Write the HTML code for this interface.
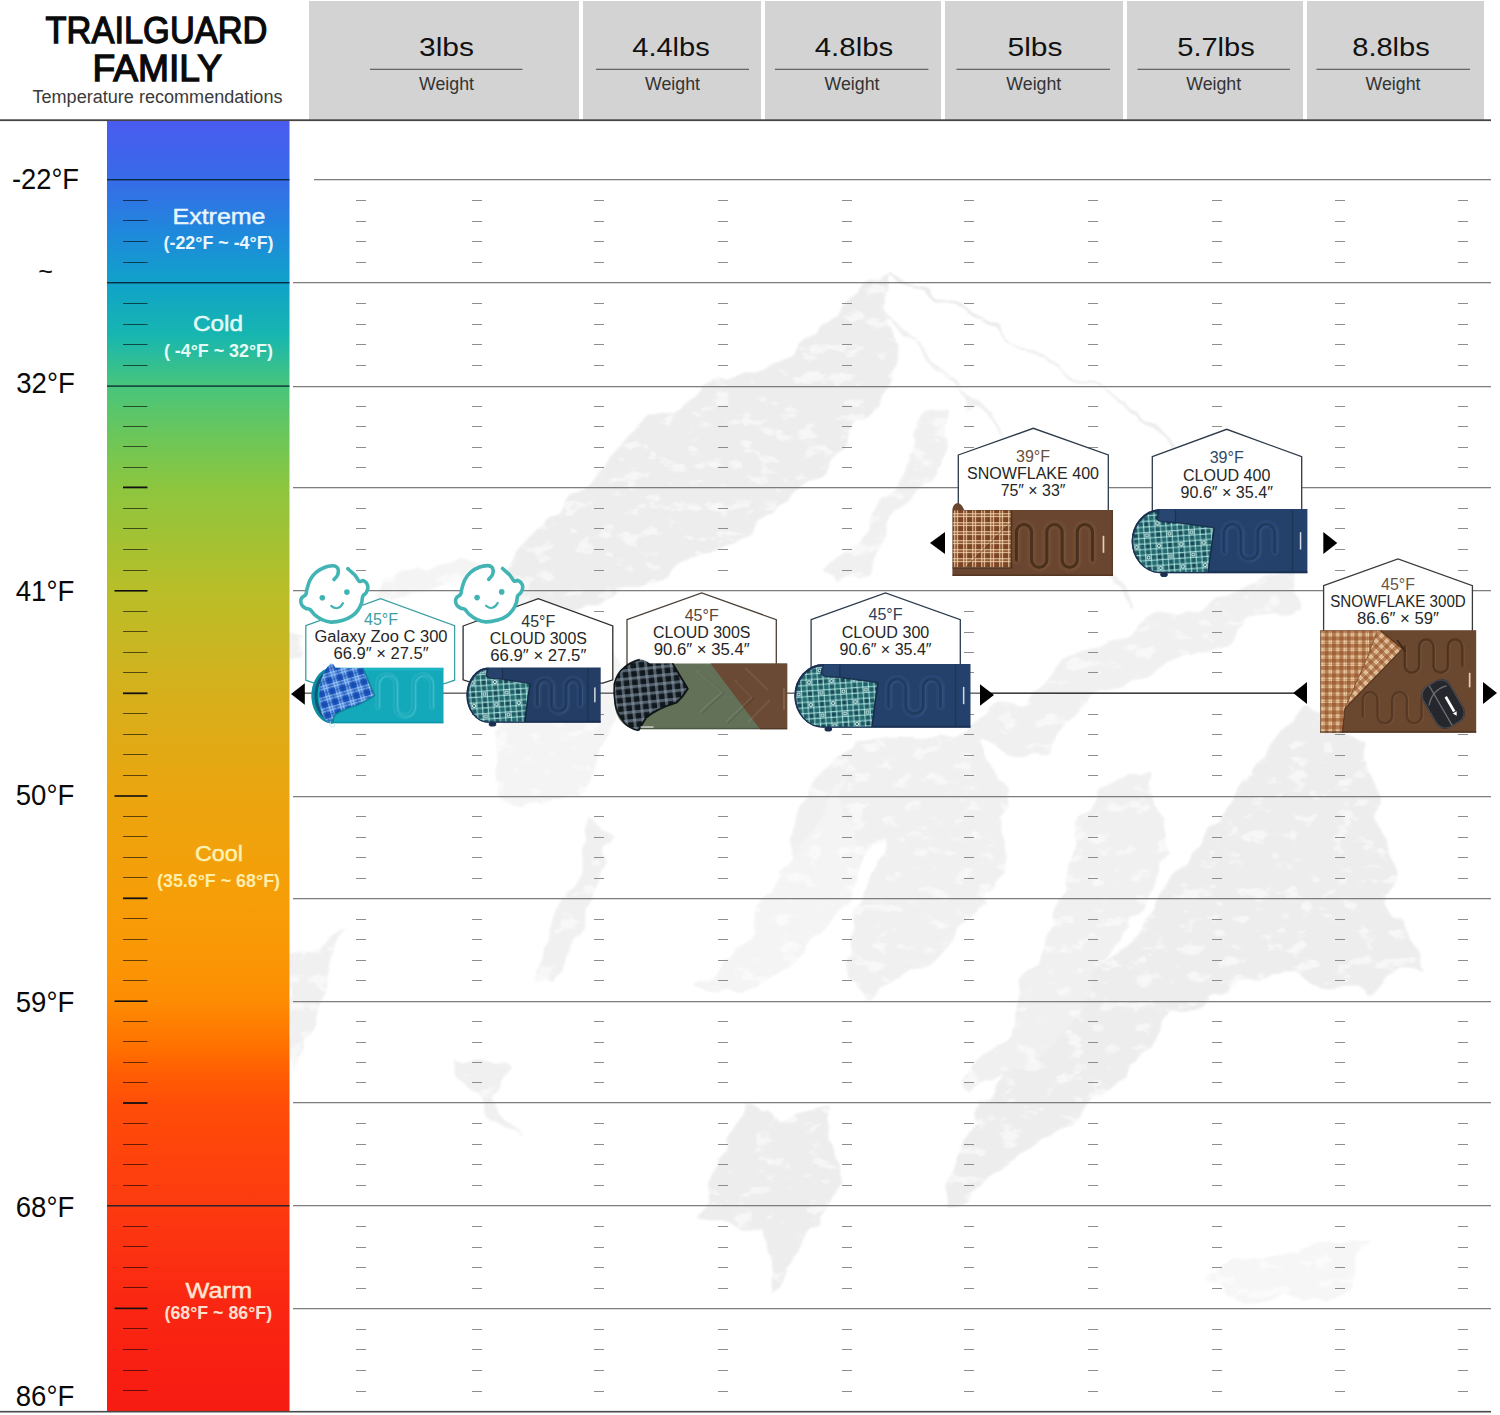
<!DOCTYPE html>
<html><head><meta charset="utf-8"><title>Trailguard Family</title>
<style>
html,body{margin:0;padding:0;background:#fff;}
body{width:1500px;height:1415px;overflow:hidden;font-family:"Liberation Sans",sans-serif;}
svg{display:block;}
text{font-family:"Liberation Sans",sans-serif;}
</style></head><body>
<svg width="1500" height="1415" viewBox="0 0 1500 1415">
<defs>
<linearGradient id="bar" x1="0" y1="121" x2="0" y2="1411" gradientUnits="userSpaceOnUse">
<stop offset="0.0000" stop-color="#4a5bf0"/><stop offset="0.0457" stop-color="#376be8"/><stop offset="0.0860" stop-color="#1f88dc"/><stop offset="0.1256" stop-color="#10a2c9"/><stop offset="0.1659" stop-color="#17b6b0"/><stop offset="0.2054" stop-color="#48c57c"/><stop offset="0.2450" stop-color="#6cc659"/><stop offset="0.2845" stop-color="#8dc63f"/><stop offset="0.3643" stop-color="#b9be28"/><stop offset="0.4434" stop-color="#d6b01c"/><stop offset="0.5233" stop-color="#eba50f"/><stop offset="0.6023" stop-color="#f69e08"/><stop offset="0.6504" stop-color="#fa9605"/><stop offset="0.6822" stop-color="#fd8c03"/><stop offset="0.7163" stop-color="#ff7200"/><stop offset="0.7395" stop-color="#ff5c04"/><stop offset="0.7612" stop-color="#ff4e08"/><stop offset="0.7977" stop-color="#ff440c"/><stop offset="0.8411" stop-color="#fd3a10"/><stop offset="0.9202" stop-color="#fa2612"/><stop offset="1.0000" stop-color="#f71b12"/></linearGradient>
<pattern id="plTeal" width="22.4" height="22.4" patternUnits="userSpaceOnUse" patternTransform="rotate(-4)">
<rect width="22.4" height="22.4" fill="#164a57"/>
<rect x="0.2" y="0" width="1.3" height="22.4" fill="#bdf6ee" fill-opacity=".78"/><rect x="0" y="0.2" width="22.4" height="1.3" fill="#bdf6ee" fill-opacity=".78"/>
<rect x="5.8" y="0" width="1.3" height="22.4" fill="#bdf6ee" fill-opacity=".78"/><rect x="0" y="5.8" width="22.4" height="1.3" fill="#bdf6ee" fill-opacity=".78"/>
<rect x="11.4" y="0" width="1.3" height="22.4" fill="#bdf6ee" fill-opacity=".78"/><rect x="0" y="11.4" width="22.4" height="1.3" fill="#bdf6ee" fill-opacity=".78"/>
<rect x="17.0" y="0" width="1.3" height="22.4" fill="#bdf6ee" fill-opacity=".78"/><rect x="0" y="17.0" width="22.4" height="1.3" fill="#bdf6ee" fill-opacity=".78"/>
<rect x="1.5" y="0" width="4.3" height="22.4" fill="#3f9c98" fill-opacity=".22"/><rect x="12.7" y="0" width="4.3" height="22.4" fill="#3f9c98" fill-opacity=".22"/>
<rect x="0" y="1.5" width="22.4" height="4.3" fill="#3f9c98" fill-opacity=".22"/><rect x="0" y="12.7" width="22.4" height="4.3" fill="#3f9c98" fill-opacity=".22"/>
<circle cx="9.25" cy="9.25" r="1.5" fill="#123c47" stroke="#d9fff9" stroke-width="1"/><circle cx="20.45" cy="20.45" r="1.5" fill="#123c47" stroke="#d9fff9" stroke-width="1"/>
</pattern>
<pattern id="plBlue" width="11" height="11" patternUnits="userSpaceOnUse" patternTransform="rotate(-16)">
<rect width="11" height="11" fill="#1a55bf"/>
<rect x="0" y="0" width="4.4" height="11" fill="#5aa0ee" fill-opacity=".38"/>
<rect x="0" y="0" width="11" height="4.4" fill="#5aa0ee" fill-opacity=".38"/>
<rect x="0.2" y="0" width="1.1" height="11" fill="#d6ebff" fill-opacity=".55"/>
<rect x="3.2" y="0" width="1.1" height="11" fill="#d6ebff" fill-opacity=".55"/>
<rect x="0" y="0.2" width="11" height="1.1" fill="#d6ebff" fill-opacity=".55"/>
<rect x="0" y="3.2" width="11" height="1.1" fill="#d6ebff" fill-opacity=".55"/>
<rect x="7.4" y="0" width=".8" height="11" fill="#0f3a90" fill-opacity=".6"/>
<rect x="0" y="7.4" width="11" height=".8" fill="#0f3a90" fill-opacity=".6"/>
</pattern>
<pattern id="plDark" width="8.4" height="8.4" patternUnits="userSpaceOnUse" patternTransform="rotate(-6)">
<rect width="8.4" height="8.4" fill="#11181d"/>
<rect x="0" y="0" width="3" height="8.4" fill="#93a6b8" fill-opacity=".5"/>
<rect x="0" y="0" width="8.4" height="3" fill="#93a6b8" fill-opacity=".5"/>
</pattern>
<pattern id="plTan" width="9" height="9" patternUnits="userSpaceOnUse">
<rect width="9" height="9" fill="#7c4526"/>
<rect x="0" y="0" width="4.2" height="9" fill="#c8905c" fill-opacity=".3"/>
<rect x="0" y="0" width="9" height="4.2" fill="#c8905c" fill-opacity=".3"/>
<rect x="0.2" y="0" width="1" height="9" fill="#f7dfba" fill-opacity=".72"/>
<rect x="3.1" y="0" width="1" height="9" fill="#f7dfba" fill-opacity=".72"/>
<rect x="0" y="0.2" width="9" height="1" fill="#f7dfba" fill-opacity=".72"/>
<rect x="0" y="3.1" width="9" height="1" fill="#f7dfba" fill-opacity=".72"/>
</pattern>
<pattern id="plTanL" width="7.4" height="7.4" patternUnits="userSpaceOnUse">
<rect width="7.4" height="7.4" fill="#f7e0b8"/>
<rect x="0" y="0" width="4.1" height="7.4" fill="#8e451c" fill-opacity=".58"/>
<rect x="0" y="0" width="7.4" height="4.1" fill="#8e451c" fill-opacity=".58"/>
<rect x="5.5" y="0" width=".7" height="7.4" fill="#8e451c" fill-opacity=".4"/>
<rect x="0" y="5.5" width="7.4" height=".7" fill="#8e451c" fill-opacity=".4"/>
</pattern>
<pattern id="plTan2" width="7.4" height="7.4" patternUnits="userSpaceOnUse" patternTransform="rotate(45)">
<rect width="7.4" height="7.4" fill="#f9e4be"/>
<rect x="0" y="0" width="3.9" height="7.4" fill="#8e451c" fill-opacity=".55"/>
<rect x="0" y="0" width="7.4" height="3.9" fill="#8e451c" fill-opacity=".55"/>
<rect x="5.4" y="0" width=".7" height="7.4" fill="#8e451c" fill-opacity=".4"/>
<rect x="0" y="5.4" width="7.4" height=".7" fill="#8e451c" fill-opacity=".4"/>
</pattern>
<filter id="soft" x="0" y="0" width="1500" height="1415" filterUnits="userSpaceOnUse" color-interpolation-filters="sRGB"><feTurbulence type="fractalNoise" baseFrequency="0.018" numOctaves="3" seed="7" result="n"/><feDisplacementMap in="SourceGraphic" in2="n" scale="38" xChannelSelector="R" yChannelSelector="G" result="d0"/><feGaussianBlur in="d0" stdDeviation="1.1" result="d"/><feTurbulence type="fractalNoise" baseFrequency="0.045 0.07" numOctaves="3" seed="11" result="n2"/><feColorMatrix in="n2" type="matrix" values="0 0 0 0 0  0 0 0 0 0  0 0 0 0 0  1.6 0 0 0 -0.12" result="m0"/><feComponentTransfer in="m0" result="m"><feFuncA type="table" tableValues="0 0 0 0.25 0.85 1 1 1 1"/></feComponentTransfer><feComposite in="d" in2="m" operator="in" result="sp"/><feComponentTransfer in="d" result="dl"><feFuncA type="linear" slope="0.45"/></feComponentTransfer><feMerge><feMergeNode in="dl"/><feMergeNode in="sp"/></feMerge></filter>
</defs>
<rect x="0" y="0" width="1500" height="1415" fill="#fff"/>
<g id="mountain" filter="url(#soft)">
<polygon points="887,272 862,294 808,332 760,364 711,386 668,418 614,456 571,494 528,542 495,575 478,600 545,628 614,596 668,578 722,545 776,512 830,470 857,428 884,404 893,350 892,300" fill="#ededed" fill-opacity="1"/>
<polygon points="495,575 430,590 370,600 380,575 450,560" fill="#f4f4f4" fill-opacity="1"/>
<path d="M888 271 L970 314 L1093 384 L1200 462 L1300 500" fill="none" stroke="#e9e9e9" stroke-width="2"/>
<path d="M890 300 L905 340 L1000 430 L1060 520 L1130 610" fill="none" stroke="#efefef" stroke-width="3"/>
<polygon points="917,420 955,409 948,448 917,497 881,543 842,589 821,582 860,533 892,480" fill="#f0f0f0" fill-opacity="1"/>
<polygon points="1300,561 1259,586 1189,603 1118,632 1047,674 998,709 970,750 1047,750 1083,709 1153,667 1224,639 1300,603" fill="#f0f0f0" fill-opacity="1"/>
<polygon points="492,740 560,660 610,620 625,700 588,790 500,800" fill="#f4f4f4" fill-opacity="1"/>
<polygon points="290,628 306,632 304,664 290,668" fill="#f0f0f0" fill-opacity="1"/>
<polygon points="1305,712 1363,740 1395,901 1419,974 1371,990 1306,974 1177,1006 1097,1095 992,1176 943,1208 959,1159 1016,1063 1097,974 1177,869 1242,788" fill="#ededed" fill-opacity="1"/>
<polygon points="1097,788 1145,772 1169,845 1097,974 1048,1046 976,1095 968,1079 1016,1006 1064,901" fill="#f0f0f0" fill-opacity="1"/>
<polygon points="847,740 984,740 1008,804 992,901 935,966 871,998 847,982 855,901 887,837 806,885 790,821" fill="#f0f0f0" fill-opacity="1"/>
<polygon points="850,770 800,850 745,927 694,990 745,990 800,960 850,900" fill="#f4f4f4" fill-opacity="1"/>
<polygon points="596,821 613,837 556,990 532,982" fill="#f0f0f0" fill-opacity="1"/>
<polygon points="290,950 338,934 322,1006 290,1079" fill="#f0f0f0" fill-opacity="1"/>
<polygon points="451,1055 508,1063 492,1103 516,1143 467,1095" fill="#f0f0f0" fill-opacity="1"/>
<polygon points="742,1103 774,1119 830,1111 847,1184 806,1240 774,1297 766,1224 693,1216 726,1143" fill="#ededed" fill-opacity="1"/>
<polygon points="1201,1272 1371,1240 1339,1297 1242,1305" fill="#f6f6f6" fill-opacity="1"/>
</g>
<g id="header">
<rect x="309" y="1" width="270" height="119" fill="#d3d3d3"/>
<text x="446.5" y="55.6" font-size="26" text-anchor="middle" fill="#111" textLength="55" lengthAdjust="spacingAndGlyphs">3lbs</text>
<rect x="370.0" y="68.8" width="152.5" height="0.9" fill="#3a3a3a"/>
<text x="446.5" y="90.3" font-size="17.5" text-anchor="middle" fill="#333" textLength="55" lengthAdjust="spacingAndGlyphs">Weight</text>
<rect x="583" y="1" width="178" height="119" fill="#d3d3d3"/>
<text x="671.0" y="55.6" font-size="26" text-anchor="middle" fill="#111" textLength="77.5" lengthAdjust="spacingAndGlyphs">4.4lbs</text>
<rect x="596.0" y="68.8" width="153.0" height="0.9" fill="#3a3a3a"/>
<text x="672.5" y="90.3" font-size="17.5" text-anchor="middle" fill="#333" textLength="55" lengthAdjust="spacingAndGlyphs">Weight</text>
<rect x="765" y="1" width="176" height="119" fill="#d3d3d3"/>
<text x="854.0" y="55.6" font-size="26" text-anchor="middle" fill="#111" textLength="78.5" lengthAdjust="spacingAndGlyphs">4.8lbs</text>
<rect x="775.0" y="68.8" width="153.5" height="0.9" fill="#3a3a3a"/>
<text x="852.0" y="90.3" font-size="17.5" text-anchor="middle" fill="#333" textLength="55" lengthAdjust="spacingAndGlyphs">Weight</text>
<rect x="945" y="1" width="178" height="119" fill="#d3d3d3"/>
<text x="1035.0" y="55.6" font-size="26" text-anchor="middle" fill="#111" textLength="55" lengthAdjust="spacingAndGlyphs">5lbs</text>
<rect x="956.5" y="68.8" width="153.5" height="0.9" fill="#3a3a3a"/>
<text x="1033.8" y="90.3" font-size="17.5" text-anchor="middle" fill="#333" textLength="55" lengthAdjust="spacingAndGlyphs">Weight</text>
<rect x="1127" y="1" width="176" height="119" fill="#d3d3d3"/>
<text x="1216.0" y="55.6" font-size="26" text-anchor="middle" fill="#111" textLength="77.5" lengthAdjust="spacingAndGlyphs">5.7lbs</text>
<rect x="1137.5" y="68.8" width="152.5" height="0.9" fill="#3a3a3a"/>
<text x="1213.7" y="90.3" font-size="17.5" text-anchor="middle" fill="#333" textLength="55" lengthAdjust="spacingAndGlyphs">Weight</text>
<rect x="1307" y="1" width="177" height="119" fill="#d3d3d3"/>
<text x="1391.0" y="55.6" font-size="26" text-anchor="middle" fill="#111" textLength="77.5" lengthAdjust="spacingAndGlyphs">8.8lbs</text>
<rect x="1316.5" y="68.8" width="153.5" height="0.9" fill="#3a3a3a"/>
<text x="1393.0" y="90.3" font-size="17.5" text-anchor="middle" fill="#333" textLength="55" lengthAdjust="spacingAndGlyphs">Weight</text>
</g>
<rect x="0" y="119.3" width="1491" height="1.8" fill="#444"/>
<text x="156.5" y="43.2" font-size="37.2" text-anchor="middle" fill="#0a0a0a" stroke="#0a0a0a" stroke-width="1.3" textLength="222" lengthAdjust="spacingAndGlyphs">TRAILGUARD</text>
<text x="157.3" y="80.7" font-size="37.2" text-anchor="middle" fill="#0a0a0a" stroke="#0a0a0a" stroke-width="1.3" textLength="129.5" lengthAdjust="spacingAndGlyphs">FAMILY</text>
<text x="157.5" y="103.3" font-size="18" text-anchor="middle" fill="#3a3a3a" textLength="250" lengthAdjust="spacingAndGlyphs">Temperature recommendations</text>
<rect x="107" y="121" width="182.5" height="1290.6" fill="url(#bar)"/>
<rect x="0" y="1410.9" width="1491" height="1.6" fill="#4a4a4a"/>
<g id="grid">
<rect x="314" y="179" width="1177" height="1" fill="#7e7e7e"/><rect x="314" y="180" width="1177" height="1" fill="#7e7e7e" fill-opacity=".28"/>
<rect x="293" y="282" width="1198" height="1" fill="#7e7e7e"/><rect x="293" y="283" width="1198" height="1" fill="#7e7e7e" fill-opacity=".28"/>
<rect x="293" y="386" width="1198" height="1" fill="#7e7e7e"/><rect x="293" y="387" width="1198" height="1" fill="#7e7e7e" fill-opacity=".28"/>
<rect x="293" y="487" width="1198" height="1" fill="#7e7e7e"/><rect x="293" y="488" width="1198" height="1" fill="#7e7e7e" fill-opacity=".28"/>
<rect x="293" y="590" width="1198" height="1" fill="#7e7e7e"/><rect x="293" y="591" width="1198" height="1" fill="#7e7e7e" fill-opacity=".28"/>
<rect x="293" y="796" width="1198" height="1" fill="#7e7e7e"/><rect x="293" y="797" width="1198" height="1" fill="#7e7e7e" fill-opacity=".28"/>
<rect x="293" y="898" width="1198" height="1" fill="#7e7e7e"/><rect x="293" y="899" width="1198" height="1" fill="#7e7e7e" fill-opacity=".28"/>
<rect x="293" y="1001" width="1198" height="1" fill="#7e7e7e"/><rect x="293" y="1002" width="1198" height="1" fill="#7e7e7e" fill-opacity=".28"/>
<rect x="293" y="1102" width="1198" height="1" fill="#7e7e7e"/><rect x="293" y="1103" width="1198" height="1" fill="#7e7e7e" fill-opacity=".28"/>
<rect x="293" y="1205" width="1198" height="1" fill="#7e7e7e"/><rect x="293" y="1206" width="1198" height="1" fill="#7e7e7e" fill-opacity=".28"/>
<rect x="293" y="1308" width="1198" height="1" fill="#7e7e7e"/><rect x="293" y="1309" width="1198" height="1" fill="#7e7e7e" fill-opacity=".28"/>
<rect x="356" y="200" width="10" height="1" fill="#8e8e8e"/><rect x="472" y="200" width="10" height="1" fill="#8e8e8e"/><rect x="594" y="200" width="10" height="1" fill="#8e8e8e"/><rect x="718" y="200" width="10" height="1" fill="#8e8e8e"/><rect x="842" y="200" width="10" height="1" fill="#8e8e8e"/><rect x="964" y="200" width="10" height="1" fill="#8e8e8e"/><rect x="1088" y="200" width="10" height="1" fill="#8e8e8e"/><rect x="1212" y="200" width="10" height="1" fill="#8e8e8e"/><rect x="1335" y="200" width="10" height="1" fill="#8e8e8e"/><rect x="1458" y="200" width="10" height="1" fill="#8e8e8e"/><rect x="356" y="221" width="10" height="1" fill="#8e8e8e"/><rect x="472" y="221" width="10" height="1" fill="#8e8e8e"/><rect x="594" y="221" width="10" height="1" fill="#8e8e8e"/><rect x="718" y="221" width="10" height="1" fill="#8e8e8e"/><rect x="842" y="221" width="10" height="1" fill="#8e8e8e"/><rect x="964" y="221" width="10" height="1" fill="#8e8e8e"/><rect x="1088" y="221" width="10" height="1" fill="#8e8e8e"/><rect x="1212" y="221" width="10" height="1" fill="#8e8e8e"/><rect x="1335" y="221" width="10" height="1" fill="#8e8e8e"/><rect x="1458" y="221" width="10" height="1" fill="#8e8e8e"/><rect x="356" y="241" width="10" height="1" fill="#8e8e8e"/><rect x="472" y="241" width="10" height="1" fill="#8e8e8e"/><rect x="594" y="241" width="10" height="1" fill="#8e8e8e"/><rect x="718" y="241" width="10" height="1" fill="#8e8e8e"/><rect x="842" y="241" width="10" height="1" fill="#8e8e8e"/><rect x="964" y="241" width="10" height="1" fill="#8e8e8e"/><rect x="1088" y="241" width="10" height="1" fill="#8e8e8e"/><rect x="1212" y="241" width="10" height="1" fill="#8e8e8e"/><rect x="1335" y="241" width="10" height="1" fill="#8e8e8e"/><rect x="1458" y="241" width="10" height="1" fill="#8e8e8e"/><rect x="356" y="262" width="10" height="1" fill="#8e8e8e"/><rect x="472" y="262" width="10" height="1" fill="#8e8e8e"/><rect x="594" y="262" width="10" height="1" fill="#8e8e8e"/><rect x="718" y="262" width="10" height="1" fill="#8e8e8e"/><rect x="842" y="262" width="10" height="1" fill="#8e8e8e"/><rect x="964" y="262" width="10" height="1" fill="#8e8e8e"/><rect x="1088" y="262" width="10" height="1" fill="#8e8e8e"/><rect x="1212" y="262" width="10" height="1" fill="#8e8e8e"/><rect x="1335" y="262" width="10" height="1" fill="#8e8e8e"/><rect x="1458" y="262" width="10" height="1" fill="#8e8e8e"/>
<rect x="356" y="303" width="10" height="1" fill="#8e8e8e"/><rect x="472" y="303" width="10" height="1" fill="#8e8e8e"/><rect x="594" y="303" width="10" height="1" fill="#8e8e8e"/><rect x="718" y="303" width="10" height="1" fill="#8e8e8e"/><rect x="842" y="303" width="10" height="1" fill="#8e8e8e"/><rect x="964" y="303" width="10" height="1" fill="#8e8e8e"/><rect x="1088" y="303" width="10" height="1" fill="#8e8e8e"/><rect x="1212" y="303" width="10" height="1" fill="#8e8e8e"/><rect x="1335" y="303" width="10" height="1" fill="#8e8e8e"/><rect x="1458" y="303" width="10" height="1" fill="#8e8e8e"/><rect x="356" y="324" width="10" height="1" fill="#8e8e8e"/><rect x="472" y="324" width="10" height="1" fill="#8e8e8e"/><rect x="594" y="324" width="10" height="1" fill="#8e8e8e"/><rect x="718" y="324" width="10" height="1" fill="#8e8e8e"/><rect x="842" y="324" width="10" height="1" fill="#8e8e8e"/><rect x="964" y="324" width="10" height="1" fill="#8e8e8e"/><rect x="1088" y="324" width="10" height="1" fill="#8e8e8e"/><rect x="1212" y="324" width="10" height="1" fill="#8e8e8e"/><rect x="1335" y="324" width="10" height="1" fill="#8e8e8e"/><rect x="1458" y="324" width="10" height="1" fill="#8e8e8e"/><rect x="356" y="344" width="10" height="1" fill="#8e8e8e"/><rect x="472" y="344" width="10" height="1" fill="#8e8e8e"/><rect x="594" y="344" width="10" height="1" fill="#8e8e8e"/><rect x="718" y="344" width="10" height="1" fill="#8e8e8e"/><rect x="842" y="344" width="10" height="1" fill="#8e8e8e"/><rect x="964" y="344" width="10" height="1" fill="#8e8e8e"/><rect x="1088" y="344" width="10" height="1" fill="#8e8e8e"/><rect x="1212" y="344" width="10" height="1" fill="#8e8e8e"/><rect x="1335" y="344" width="10" height="1" fill="#8e8e8e"/><rect x="1458" y="344" width="10" height="1" fill="#8e8e8e"/><rect x="356" y="365" width="10" height="1" fill="#8e8e8e"/><rect x="472" y="365" width="10" height="1" fill="#8e8e8e"/><rect x="594" y="365" width="10" height="1" fill="#8e8e8e"/><rect x="718" y="365" width="10" height="1" fill="#8e8e8e"/><rect x="842" y="365" width="10" height="1" fill="#8e8e8e"/><rect x="964" y="365" width="10" height="1" fill="#8e8e8e"/><rect x="1088" y="365" width="10" height="1" fill="#8e8e8e"/><rect x="1212" y="365" width="10" height="1" fill="#8e8e8e"/><rect x="1335" y="365" width="10" height="1" fill="#8e8e8e"/><rect x="1458" y="365" width="10" height="1" fill="#8e8e8e"/>
<rect x="356" y="406" width="10" height="1" fill="#8e8e8e"/><rect x="472" y="406" width="10" height="1" fill="#8e8e8e"/><rect x="594" y="406" width="10" height="1" fill="#8e8e8e"/><rect x="718" y="406" width="10" height="1" fill="#8e8e8e"/><rect x="842" y="406" width="10" height="1" fill="#8e8e8e"/><rect x="964" y="406" width="10" height="1" fill="#8e8e8e"/><rect x="1088" y="406" width="10" height="1" fill="#8e8e8e"/><rect x="1212" y="406" width="10" height="1" fill="#8e8e8e"/><rect x="1335" y="406" width="10" height="1" fill="#8e8e8e"/><rect x="1458" y="406" width="10" height="1" fill="#8e8e8e"/><rect x="356" y="426" width="10" height="1" fill="#8e8e8e"/><rect x="472" y="426" width="10" height="1" fill="#8e8e8e"/><rect x="594" y="426" width="10" height="1" fill="#8e8e8e"/><rect x="718" y="426" width="10" height="1" fill="#8e8e8e"/><rect x="842" y="426" width="10" height="1" fill="#8e8e8e"/><rect x="964" y="426" width="10" height="1" fill="#8e8e8e"/><rect x="1088" y="426" width="10" height="1" fill="#8e8e8e"/><rect x="1212" y="426" width="10" height="1" fill="#8e8e8e"/><rect x="1335" y="426" width="10" height="1" fill="#8e8e8e"/><rect x="1458" y="426" width="10" height="1" fill="#8e8e8e"/><rect x="356" y="447" width="10" height="1" fill="#8e8e8e"/><rect x="472" y="447" width="10" height="1" fill="#8e8e8e"/><rect x="594" y="447" width="10" height="1" fill="#8e8e8e"/><rect x="718" y="447" width="10" height="1" fill="#8e8e8e"/><rect x="842" y="447" width="10" height="1" fill="#8e8e8e"/><rect x="964" y="447" width="10" height="1" fill="#8e8e8e"/><rect x="1088" y="447" width="10" height="1" fill="#8e8e8e"/><rect x="1212" y="447" width="10" height="1" fill="#8e8e8e"/><rect x="1335" y="447" width="10" height="1" fill="#8e8e8e"/><rect x="1458" y="447" width="10" height="1" fill="#8e8e8e"/><rect x="356" y="467" width="10" height="1" fill="#8e8e8e"/><rect x="472" y="467" width="10" height="1" fill="#8e8e8e"/><rect x="594" y="467" width="10" height="1" fill="#8e8e8e"/><rect x="718" y="467" width="10" height="1" fill="#8e8e8e"/><rect x="842" y="467" width="10" height="1" fill="#8e8e8e"/><rect x="964" y="467" width="10" height="1" fill="#8e8e8e"/><rect x="1088" y="467" width="10" height="1" fill="#8e8e8e"/><rect x="1212" y="467" width="10" height="1" fill="#8e8e8e"/><rect x="1335" y="467" width="10" height="1" fill="#8e8e8e"/><rect x="1458" y="467" width="10" height="1" fill="#8e8e8e"/>
<rect x="356" y="508" width="10" height="1" fill="#8e8e8e"/><rect x="472" y="508" width="10" height="1" fill="#8e8e8e"/><rect x="594" y="508" width="10" height="1" fill="#8e8e8e"/><rect x="718" y="508" width="10" height="1" fill="#8e8e8e"/><rect x="842" y="508" width="10" height="1" fill="#8e8e8e"/><rect x="964" y="508" width="10" height="1" fill="#8e8e8e"/><rect x="1088" y="508" width="10" height="1" fill="#8e8e8e"/><rect x="1212" y="508" width="10" height="1" fill="#8e8e8e"/><rect x="1335" y="508" width="10" height="1" fill="#8e8e8e"/><rect x="1458" y="508" width="10" height="1" fill="#8e8e8e"/><rect x="356" y="528" width="10" height="1" fill="#8e8e8e"/><rect x="472" y="528" width="10" height="1" fill="#8e8e8e"/><rect x="594" y="528" width="10" height="1" fill="#8e8e8e"/><rect x="718" y="528" width="10" height="1" fill="#8e8e8e"/><rect x="842" y="528" width="10" height="1" fill="#8e8e8e"/><rect x="964" y="528" width="10" height="1" fill="#8e8e8e"/><rect x="1088" y="528" width="10" height="1" fill="#8e8e8e"/><rect x="1212" y="528" width="10" height="1" fill="#8e8e8e"/><rect x="1335" y="528" width="10" height="1" fill="#8e8e8e"/><rect x="1458" y="528" width="10" height="1" fill="#8e8e8e"/><rect x="356" y="549" width="10" height="1" fill="#8e8e8e"/><rect x="472" y="549" width="10" height="1" fill="#8e8e8e"/><rect x="594" y="549" width="10" height="1" fill="#8e8e8e"/><rect x="718" y="549" width="10" height="1" fill="#8e8e8e"/><rect x="842" y="549" width="10" height="1" fill="#8e8e8e"/><rect x="964" y="549" width="10" height="1" fill="#8e8e8e"/><rect x="1088" y="549" width="10" height="1" fill="#8e8e8e"/><rect x="1212" y="549" width="10" height="1" fill="#8e8e8e"/><rect x="1335" y="549" width="10" height="1" fill="#8e8e8e"/><rect x="1458" y="549" width="10" height="1" fill="#8e8e8e"/><rect x="356" y="570" width="10" height="1" fill="#8e8e8e"/><rect x="472" y="570" width="10" height="1" fill="#8e8e8e"/><rect x="594" y="570" width="10" height="1" fill="#8e8e8e"/><rect x="718" y="570" width="10" height="1" fill="#8e8e8e"/><rect x="842" y="570" width="10" height="1" fill="#8e8e8e"/><rect x="964" y="570" width="10" height="1" fill="#8e8e8e"/><rect x="1088" y="570" width="10" height="1" fill="#8e8e8e"/><rect x="1212" y="570" width="10" height="1" fill="#8e8e8e"/><rect x="1335" y="570" width="10" height="1" fill="#8e8e8e"/><rect x="1458" y="570" width="10" height="1" fill="#8e8e8e"/>
<rect x="356" y="611" width="10" height="1" fill="#8e8e8e"/><rect x="472" y="611" width="10" height="1" fill="#8e8e8e"/><rect x="594" y="611" width="10" height="1" fill="#8e8e8e"/><rect x="718" y="611" width="10" height="1" fill="#8e8e8e"/><rect x="842" y="611" width="10" height="1" fill="#8e8e8e"/><rect x="964" y="611" width="10" height="1" fill="#8e8e8e"/><rect x="1088" y="611" width="10" height="1" fill="#8e8e8e"/><rect x="1212" y="611" width="10" height="1" fill="#8e8e8e"/><rect x="1335" y="611" width="10" height="1" fill="#8e8e8e"/><rect x="1458" y="611" width="10" height="1" fill="#8e8e8e"/><rect x="356" y="632" width="10" height="1" fill="#8e8e8e"/><rect x="472" y="632" width="10" height="1" fill="#8e8e8e"/><rect x="594" y="632" width="10" height="1" fill="#8e8e8e"/><rect x="718" y="632" width="10" height="1" fill="#8e8e8e"/><rect x="842" y="632" width="10" height="1" fill="#8e8e8e"/><rect x="964" y="632" width="10" height="1" fill="#8e8e8e"/><rect x="1088" y="632" width="10" height="1" fill="#8e8e8e"/><rect x="1212" y="632" width="10" height="1" fill="#8e8e8e"/><rect x="1335" y="632" width="10" height="1" fill="#8e8e8e"/><rect x="1458" y="632" width="10" height="1" fill="#8e8e8e"/><rect x="356" y="652" width="10" height="1" fill="#8e8e8e"/><rect x="472" y="652" width="10" height="1" fill="#8e8e8e"/><rect x="594" y="652" width="10" height="1" fill="#8e8e8e"/><rect x="718" y="652" width="10" height="1" fill="#8e8e8e"/><rect x="842" y="652" width="10" height="1" fill="#8e8e8e"/><rect x="964" y="652" width="10" height="1" fill="#8e8e8e"/><rect x="1088" y="652" width="10" height="1" fill="#8e8e8e"/><rect x="1212" y="652" width="10" height="1" fill="#8e8e8e"/><rect x="1335" y="652" width="10" height="1" fill="#8e8e8e"/><rect x="1458" y="652" width="10" height="1" fill="#8e8e8e"/><rect x="356" y="672" width="10" height="1" fill="#8e8e8e"/><rect x="472" y="672" width="10" height="1" fill="#8e8e8e"/><rect x="594" y="672" width="10" height="1" fill="#8e8e8e"/><rect x="718" y="672" width="10" height="1" fill="#8e8e8e"/><rect x="842" y="672" width="10" height="1" fill="#8e8e8e"/><rect x="964" y="672" width="10" height="1" fill="#8e8e8e"/><rect x="1088" y="672" width="10" height="1" fill="#8e8e8e"/><rect x="1212" y="672" width="10" height="1" fill="#8e8e8e"/><rect x="1335" y="672" width="10" height="1" fill="#8e8e8e"/><rect x="1458" y="672" width="10" height="1" fill="#8e8e8e"/>
<rect x="356" y="714" width="10" height="1" fill="#8e8e8e"/><rect x="472" y="714" width="10" height="1" fill="#8e8e8e"/><rect x="594" y="714" width="10" height="1" fill="#8e8e8e"/><rect x="718" y="714" width="10" height="1" fill="#8e8e8e"/><rect x="842" y="714" width="10" height="1" fill="#8e8e8e"/><rect x="964" y="714" width="10" height="1" fill="#8e8e8e"/><rect x="1088" y="714" width="10" height="1" fill="#8e8e8e"/><rect x="1212" y="714" width="10" height="1" fill="#8e8e8e"/><rect x="1335" y="714" width="10" height="1" fill="#8e8e8e"/><rect x="1458" y="714" width="10" height="1" fill="#8e8e8e"/><rect x="356" y="734" width="10" height="1" fill="#8e8e8e"/><rect x="472" y="734" width="10" height="1" fill="#8e8e8e"/><rect x="594" y="734" width="10" height="1" fill="#8e8e8e"/><rect x="718" y="734" width="10" height="1" fill="#8e8e8e"/><rect x="842" y="734" width="10" height="1" fill="#8e8e8e"/><rect x="964" y="734" width="10" height="1" fill="#8e8e8e"/><rect x="1088" y="734" width="10" height="1" fill="#8e8e8e"/><rect x="1212" y="734" width="10" height="1" fill="#8e8e8e"/><rect x="1335" y="734" width="10" height="1" fill="#8e8e8e"/><rect x="1458" y="734" width="10" height="1" fill="#8e8e8e"/><rect x="356" y="755" width="10" height="1" fill="#8e8e8e"/><rect x="472" y="755" width="10" height="1" fill="#8e8e8e"/><rect x="594" y="755" width="10" height="1" fill="#8e8e8e"/><rect x="718" y="755" width="10" height="1" fill="#8e8e8e"/><rect x="842" y="755" width="10" height="1" fill="#8e8e8e"/><rect x="964" y="755" width="10" height="1" fill="#8e8e8e"/><rect x="1088" y="755" width="10" height="1" fill="#8e8e8e"/><rect x="1212" y="755" width="10" height="1" fill="#8e8e8e"/><rect x="1335" y="755" width="10" height="1" fill="#8e8e8e"/><rect x="1458" y="755" width="10" height="1" fill="#8e8e8e"/><rect x="356" y="775" width="10" height="1" fill="#8e8e8e"/><rect x="472" y="775" width="10" height="1" fill="#8e8e8e"/><rect x="594" y="775" width="10" height="1" fill="#8e8e8e"/><rect x="718" y="775" width="10" height="1" fill="#8e8e8e"/><rect x="842" y="775" width="10" height="1" fill="#8e8e8e"/><rect x="964" y="775" width="10" height="1" fill="#8e8e8e"/><rect x="1088" y="775" width="10" height="1" fill="#8e8e8e"/><rect x="1212" y="775" width="10" height="1" fill="#8e8e8e"/><rect x="1335" y="775" width="10" height="1" fill="#8e8e8e"/><rect x="1458" y="775" width="10" height="1" fill="#8e8e8e"/>
<rect x="356" y="816" width="10" height="1" fill="#8e8e8e"/><rect x="472" y="816" width="10" height="1" fill="#8e8e8e"/><rect x="594" y="816" width="10" height="1" fill="#8e8e8e"/><rect x="718" y="816" width="10" height="1" fill="#8e8e8e"/><rect x="842" y="816" width="10" height="1" fill="#8e8e8e"/><rect x="964" y="816" width="10" height="1" fill="#8e8e8e"/><rect x="1088" y="816" width="10" height="1" fill="#8e8e8e"/><rect x="1212" y="816" width="10" height="1" fill="#8e8e8e"/><rect x="1335" y="816" width="10" height="1" fill="#8e8e8e"/><rect x="1458" y="816" width="10" height="1" fill="#8e8e8e"/><rect x="356" y="837" width="10" height="1" fill="#8e8e8e"/><rect x="472" y="837" width="10" height="1" fill="#8e8e8e"/><rect x="594" y="837" width="10" height="1" fill="#8e8e8e"/><rect x="718" y="837" width="10" height="1" fill="#8e8e8e"/><rect x="842" y="837" width="10" height="1" fill="#8e8e8e"/><rect x="964" y="837" width="10" height="1" fill="#8e8e8e"/><rect x="1088" y="837" width="10" height="1" fill="#8e8e8e"/><rect x="1212" y="837" width="10" height="1" fill="#8e8e8e"/><rect x="1335" y="837" width="10" height="1" fill="#8e8e8e"/><rect x="1458" y="837" width="10" height="1" fill="#8e8e8e"/><rect x="356" y="857" width="10" height="1" fill="#8e8e8e"/><rect x="472" y="857" width="10" height="1" fill="#8e8e8e"/><rect x="594" y="857" width="10" height="1" fill="#8e8e8e"/><rect x="718" y="857" width="10" height="1" fill="#8e8e8e"/><rect x="842" y="857" width="10" height="1" fill="#8e8e8e"/><rect x="964" y="857" width="10" height="1" fill="#8e8e8e"/><rect x="1088" y="857" width="10" height="1" fill="#8e8e8e"/><rect x="1212" y="857" width="10" height="1" fill="#8e8e8e"/><rect x="1335" y="857" width="10" height="1" fill="#8e8e8e"/><rect x="1458" y="857" width="10" height="1" fill="#8e8e8e"/><rect x="356" y="878" width="10" height="1" fill="#8e8e8e"/><rect x="472" y="878" width="10" height="1" fill="#8e8e8e"/><rect x="594" y="878" width="10" height="1" fill="#8e8e8e"/><rect x="718" y="878" width="10" height="1" fill="#8e8e8e"/><rect x="842" y="878" width="10" height="1" fill="#8e8e8e"/><rect x="964" y="878" width="10" height="1" fill="#8e8e8e"/><rect x="1088" y="878" width="10" height="1" fill="#8e8e8e"/><rect x="1212" y="878" width="10" height="1" fill="#8e8e8e"/><rect x="1335" y="878" width="10" height="1" fill="#8e8e8e"/><rect x="1458" y="878" width="10" height="1" fill="#8e8e8e"/>
<rect x="356" y="919" width="10" height="1" fill="#8e8e8e"/><rect x="472" y="919" width="10" height="1" fill="#8e8e8e"/><rect x="594" y="919" width="10" height="1" fill="#8e8e8e"/><rect x="718" y="919" width="10" height="1" fill="#8e8e8e"/><rect x="842" y="919" width="10" height="1" fill="#8e8e8e"/><rect x="964" y="919" width="10" height="1" fill="#8e8e8e"/><rect x="1088" y="919" width="10" height="1" fill="#8e8e8e"/><rect x="1212" y="919" width="10" height="1" fill="#8e8e8e"/><rect x="1335" y="919" width="10" height="1" fill="#8e8e8e"/><rect x="1458" y="919" width="10" height="1" fill="#8e8e8e"/><rect x="356" y="939" width="10" height="1" fill="#8e8e8e"/><rect x="472" y="939" width="10" height="1" fill="#8e8e8e"/><rect x="594" y="939" width="10" height="1" fill="#8e8e8e"/><rect x="718" y="939" width="10" height="1" fill="#8e8e8e"/><rect x="842" y="939" width="10" height="1" fill="#8e8e8e"/><rect x="964" y="939" width="10" height="1" fill="#8e8e8e"/><rect x="1088" y="939" width="10" height="1" fill="#8e8e8e"/><rect x="1212" y="939" width="10" height="1" fill="#8e8e8e"/><rect x="1335" y="939" width="10" height="1" fill="#8e8e8e"/><rect x="1458" y="939" width="10" height="1" fill="#8e8e8e"/><rect x="356" y="960" width="10" height="1" fill="#8e8e8e"/><rect x="472" y="960" width="10" height="1" fill="#8e8e8e"/><rect x="594" y="960" width="10" height="1" fill="#8e8e8e"/><rect x="718" y="960" width="10" height="1" fill="#8e8e8e"/><rect x="842" y="960" width="10" height="1" fill="#8e8e8e"/><rect x="964" y="960" width="10" height="1" fill="#8e8e8e"/><rect x="1088" y="960" width="10" height="1" fill="#8e8e8e"/><rect x="1212" y="960" width="10" height="1" fill="#8e8e8e"/><rect x="1335" y="960" width="10" height="1" fill="#8e8e8e"/><rect x="1458" y="960" width="10" height="1" fill="#8e8e8e"/><rect x="356" y="980" width="10" height="1" fill="#8e8e8e"/><rect x="472" y="980" width="10" height="1" fill="#8e8e8e"/><rect x="594" y="980" width="10" height="1" fill="#8e8e8e"/><rect x="718" y="980" width="10" height="1" fill="#8e8e8e"/><rect x="842" y="980" width="10" height="1" fill="#8e8e8e"/><rect x="964" y="980" width="10" height="1" fill="#8e8e8e"/><rect x="1088" y="980" width="10" height="1" fill="#8e8e8e"/><rect x="1212" y="980" width="10" height="1" fill="#8e8e8e"/><rect x="1335" y="980" width="10" height="1" fill="#8e8e8e"/><rect x="1458" y="980" width="10" height="1" fill="#8e8e8e"/>
<rect x="356" y="1021" width="10" height="1" fill="#8e8e8e"/><rect x="472" y="1021" width="10" height="1" fill="#8e8e8e"/><rect x="594" y="1021" width="10" height="1" fill="#8e8e8e"/><rect x="718" y="1021" width="10" height="1" fill="#8e8e8e"/><rect x="842" y="1021" width="10" height="1" fill="#8e8e8e"/><rect x="964" y="1021" width="10" height="1" fill="#8e8e8e"/><rect x="1088" y="1021" width="10" height="1" fill="#8e8e8e"/><rect x="1212" y="1021" width="10" height="1" fill="#8e8e8e"/><rect x="1335" y="1021" width="10" height="1" fill="#8e8e8e"/><rect x="1458" y="1021" width="10" height="1" fill="#8e8e8e"/><rect x="356" y="1042" width="10" height="1" fill="#8e8e8e"/><rect x="472" y="1042" width="10" height="1" fill="#8e8e8e"/><rect x="594" y="1042" width="10" height="1" fill="#8e8e8e"/><rect x="718" y="1042" width="10" height="1" fill="#8e8e8e"/><rect x="842" y="1042" width="10" height="1" fill="#8e8e8e"/><rect x="964" y="1042" width="10" height="1" fill="#8e8e8e"/><rect x="1088" y="1042" width="10" height="1" fill="#8e8e8e"/><rect x="1212" y="1042" width="10" height="1" fill="#8e8e8e"/><rect x="1335" y="1042" width="10" height="1" fill="#8e8e8e"/><rect x="1458" y="1042" width="10" height="1" fill="#8e8e8e"/><rect x="356" y="1062" width="10" height="1" fill="#8e8e8e"/><rect x="472" y="1062" width="10" height="1" fill="#8e8e8e"/><rect x="594" y="1062" width="10" height="1" fill="#8e8e8e"/><rect x="718" y="1062" width="10" height="1" fill="#8e8e8e"/><rect x="842" y="1062" width="10" height="1" fill="#8e8e8e"/><rect x="964" y="1062" width="10" height="1" fill="#8e8e8e"/><rect x="1088" y="1062" width="10" height="1" fill="#8e8e8e"/><rect x="1212" y="1062" width="10" height="1" fill="#8e8e8e"/><rect x="1335" y="1062" width="10" height="1" fill="#8e8e8e"/><rect x="1458" y="1062" width="10" height="1" fill="#8e8e8e"/><rect x="356" y="1082" width="10" height="1" fill="#8e8e8e"/><rect x="472" y="1082" width="10" height="1" fill="#8e8e8e"/><rect x="594" y="1082" width="10" height="1" fill="#8e8e8e"/><rect x="718" y="1082" width="10" height="1" fill="#8e8e8e"/><rect x="842" y="1082" width="10" height="1" fill="#8e8e8e"/><rect x="964" y="1082" width="10" height="1" fill="#8e8e8e"/><rect x="1088" y="1082" width="10" height="1" fill="#8e8e8e"/><rect x="1212" y="1082" width="10" height="1" fill="#8e8e8e"/><rect x="1335" y="1082" width="10" height="1" fill="#8e8e8e"/><rect x="1458" y="1082" width="10" height="1" fill="#8e8e8e"/>
<rect x="356" y="1123" width="10" height="1" fill="#8e8e8e"/><rect x="472" y="1123" width="10" height="1" fill="#8e8e8e"/><rect x="594" y="1123" width="10" height="1" fill="#8e8e8e"/><rect x="718" y="1123" width="10" height="1" fill="#8e8e8e"/><rect x="842" y="1123" width="10" height="1" fill="#8e8e8e"/><rect x="964" y="1123" width="10" height="1" fill="#8e8e8e"/><rect x="1088" y="1123" width="10" height="1" fill="#8e8e8e"/><rect x="1212" y="1123" width="10" height="1" fill="#8e8e8e"/><rect x="1335" y="1123" width="10" height="1" fill="#8e8e8e"/><rect x="1458" y="1123" width="10" height="1" fill="#8e8e8e"/><rect x="356" y="1144" width="10" height="1" fill="#8e8e8e"/><rect x="472" y="1144" width="10" height="1" fill="#8e8e8e"/><rect x="594" y="1144" width="10" height="1" fill="#8e8e8e"/><rect x="718" y="1144" width="10" height="1" fill="#8e8e8e"/><rect x="842" y="1144" width="10" height="1" fill="#8e8e8e"/><rect x="964" y="1144" width="10" height="1" fill="#8e8e8e"/><rect x="1088" y="1144" width="10" height="1" fill="#8e8e8e"/><rect x="1212" y="1144" width="10" height="1" fill="#8e8e8e"/><rect x="1335" y="1144" width="10" height="1" fill="#8e8e8e"/><rect x="1458" y="1144" width="10" height="1" fill="#8e8e8e"/><rect x="356" y="1164" width="10" height="1" fill="#8e8e8e"/><rect x="472" y="1164" width="10" height="1" fill="#8e8e8e"/><rect x="594" y="1164" width="10" height="1" fill="#8e8e8e"/><rect x="718" y="1164" width="10" height="1" fill="#8e8e8e"/><rect x="842" y="1164" width="10" height="1" fill="#8e8e8e"/><rect x="964" y="1164" width="10" height="1" fill="#8e8e8e"/><rect x="1088" y="1164" width="10" height="1" fill="#8e8e8e"/><rect x="1212" y="1164" width="10" height="1" fill="#8e8e8e"/><rect x="1335" y="1164" width="10" height="1" fill="#8e8e8e"/><rect x="1458" y="1164" width="10" height="1" fill="#8e8e8e"/><rect x="356" y="1185" width="10" height="1" fill="#8e8e8e"/><rect x="472" y="1185" width="10" height="1" fill="#8e8e8e"/><rect x="594" y="1185" width="10" height="1" fill="#8e8e8e"/><rect x="718" y="1185" width="10" height="1" fill="#8e8e8e"/><rect x="842" y="1185" width="10" height="1" fill="#8e8e8e"/><rect x="964" y="1185" width="10" height="1" fill="#8e8e8e"/><rect x="1088" y="1185" width="10" height="1" fill="#8e8e8e"/><rect x="1212" y="1185" width="10" height="1" fill="#8e8e8e"/><rect x="1335" y="1185" width="10" height="1" fill="#8e8e8e"/><rect x="1458" y="1185" width="10" height="1" fill="#8e8e8e"/>
<rect x="356" y="1226" width="10" height="1" fill="#8e8e8e"/><rect x="472" y="1226" width="10" height="1" fill="#8e8e8e"/><rect x="594" y="1226" width="10" height="1" fill="#8e8e8e"/><rect x="718" y="1226" width="10" height="1" fill="#8e8e8e"/><rect x="842" y="1226" width="10" height="1" fill="#8e8e8e"/><rect x="964" y="1226" width="10" height="1" fill="#8e8e8e"/><rect x="1088" y="1226" width="10" height="1" fill="#8e8e8e"/><rect x="1212" y="1226" width="10" height="1" fill="#8e8e8e"/><rect x="1335" y="1226" width="10" height="1" fill="#8e8e8e"/><rect x="1458" y="1226" width="10" height="1" fill="#8e8e8e"/><rect x="356" y="1247" width="10" height="1" fill="#8e8e8e"/><rect x="472" y="1247" width="10" height="1" fill="#8e8e8e"/><rect x="594" y="1247" width="10" height="1" fill="#8e8e8e"/><rect x="718" y="1247" width="10" height="1" fill="#8e8e8e"/><rect x="842" y="1247" width="10" height="1" fill="#8e8e8e"/><rect x="964" y="1247" width="10" height="1" fill="#8e8e8e"/><rect x="1088" y="1247" width="10" height="1" fill="#8e8e8e"/><rect x="1212" y="1247" width="10" height="1" fill="#8e8e8e"/><rect x="1335" y="1247" width="10" height="1" fill="#8e8e8e"/><rect x="1458" y="1247" width="10" height="1" fill="#8e8e8e"/><rect x="356" y="1267" width="10" height="1" fill="#8e8e8e"/><rect x="472" y="1267" width="10" height="1" fill="#8e8e8e"/><rect x="594" y="1267" width="10" height="1" fill="#8e8e8e"/><rect x="718" y="1267" width="10" height="1" fill="#8e8e8e"/><rect x="842" y="1267" width="10" height="1" fill="#8e8e8e"/><rect x="964" y="1267" width="10" height="1" fill="#8e8e8e"/><rect x="1088" y="1267" width="10" height="1" fill="#8e8e8e"/><rect x="1212" y="1267" width="10" height="1" fill="#8e8e8e"/><rect x="1335" y="1267" width="10" height="1" fill="#8e8e8e"/><rect x="1458" y="1267" width="10" height="1" fill="#8e8e8e"/><rect x="356" y="1288" width="10" height="1" fill="#8e8e8e"/><rect x="472" y="1288" width="10" height="1" fill="#8e8e8e"/><rect x="594" y="1288" width="10" height="1" fill="#8e8e8e"/><rect x="718" y="1288" width="10" height="1" fill="#8e8e8e"/><rect x="842" y="1288" width="10" height="1" fill="#8e8e8e"/><rect x="964" y="1288" width="10" height="1" fill="#8e8e8e"/><rect x="1088" y="1288" width="10" height="1" fill="#8e8e8e"/><rect x="1212" y="1288" width="10" height="1" fill="#8e8e8e"/><rect x="1335" y="1288" width="10" height="1" fill="#8e8e8e"/><rect x="1458" y="1288" width="10" height="1" fill="#8e8e8e"/>
<rect x="356" y="1329" width="10" height="1" fill="#8e8e8e"/><rect x="472" y="1329" width="10" height="1" fill="#8e8e8e"/><rect x="594" y="1329" width="10" height="1" fill="#8e8e8e"/><rect x="718" y="1329" width="10" height="1" fill="#8e8e8e"/><rect x="842" y="1329" width="10" height="1" fill="#8e8e8e"/><rect x="964" y="1329" width="10" height="1" fill="#8e8e8e"/><rect x="1088" y="1329" width="10" height="1" fill="#8e8e8e"/><rect x="1212" y="1329" width="10" height="1" fill="#8e8e8e"/><rect x="1335" y="1329" width="10" height="1" fill="#8e8e8e"/><rect x="1458" y="1329" width="10" height="1" fill="#8e8e8e"/><rect x="356" y="1349" width="10" height="1" fill="#8e8e8e"/><rect x="472" y="1349" width="10" height="1" fill="#8e8e8e"/><rect x="594" y="1349" width="10" height="1" fill="#8e8e8e"/><rect x="718" y="1349" width="10" height="1" fill="#8e8e8e"/><rect x="842" y="1349" width="10" height="1" fill="#8e8e8e"/><rect x="964" y="1349" width="10" height="1" fill="#8e8e8e"/><rect x="1088" y="1349" width="10" height="1" fill="#8e8e8e"/><rect x="1212" y="1349" width="10" height="1" fill="#8e8e8e"/><rect x="1335" y="1349" width="10" height="1" fill="#8e8e8e"/><rect x="1458" y="1349" width="10" height="1" fill="#8e8e8e"/><rect x="356" y="1370" width="10" height="1" fill="#8e8e8e"/><rect x="472" y="1370" width="10" height="1" fill="#8e8e8e"/><rect x="594" y="1370" width="10" height="1" fill="#8e8e8e"/><rect x="718" y="1370" width="10" height="1" fill="#8e8e8e"/><rect x="842" y="1370" width="10" height="1" fill="#8e8e8e"/><rect x="964" y="1370" width="10" height="1" fill="#8e8e8e"/><rect x="1088" y="1370" width="10" height="1" fill="#8e8e8e"/><rect x="1212" y="1370" width="10" height="1" fill="#8e8e8e"/><rect x="1335" y="1370" width="10" height="1" fill="#8e8e8e"/><rect x="1458" y="1370" width="10" height="1" fill="#8e8e8e"/><rect x="356" y="1391" width="10" height="1" fill="#8e8e8e"/><rect x="472" y="1391" width="10" height="1" fill="#8e8e8e"/><rect x="594" y="1391" width="10" height="1" fill="#8e8e8e"/><rect x="718" y="1391" width="10" height="1" fill="#8e8e8e"/><rect x="842" y="1391" width="10" height="1" fill="#8e8e8e"/><rect x="964" y="1391" width="10" height="1" fill="#8e8e8e"/><rect x="1088" y="1391" width="10" height="1" fill="#8e8e8e"/><rect x="1212" y="1391" width="10" height="1" fill="#8e8e8e"/><rect x="1335" y="1391" width="10" height="1" fill="#8e8e8e"/><rect x="1458" y="1391" width="10" height="1" fill="#8e8e8e"/>
</g>
<g id="barticks">
<rect x="107" y="179.0" width="182.5" height="1.4" fill="#08202e" fill-opacity="0.9"/>
<rect x="123" y="200.0" width="24.5" height="1" fill="#000" fill-opacity="0.6"/><rect x="123" y="220.0" width="24.5" height="1" fill="#000" fill-opacity="0.6"/><rect x="123" y="241.0" width="24.5" height="1" fill="#000" fill-opacity="0.6"/><rect x="123" y="262.0" width="24.5" height="1" fill="#000" fill-opacity="0.6"/>
<rect x="107" y="282.0" width="182.5" height="1.4" fill="#08202e" fill-opacity="0.9"/>
<rect x="123" y="303.0" width="24.5" height="1" fill="#000" fill-opacity="0.6"/><rect x="123" y="324.0" width="24.5" height="1" fill="#000" fill-opacity="0.6"/><rect x="123" y="344.0" width="24.5" height="1" fill="#000" fill-opacity="0.6"/><rect x="123" y="365.0" width="24.5" height="1" fill="#000" fill-opacity="0.6"/>
<rect x="107" y="385.4" width="182.5" height="1.4" fill="#08202e" fill-opacity="0.9"/>
<rect x="123" y="406.0" width="24.5" height="1" fill="#000" fill-opacity="0.6"/><rect x="123" y="426.0" width="24.5" height="1" fill="#000" fill-opacity="0.6"/><rect x="123" y="446.0" width="24.5" height="1" fill="#000" fill-opacity="0.6"/><rect x="123" y="467.0" width="24.5" height="1" fill="#000" fill-opacity="0.6"/>
<rect x="123" y="486.5" width="24.5" height="1.8" fill="#111"/>
<rect x="123" y="508.0" width="24.5" height="1" fill="#000" fill-opacity="0.6"/><rect x="123" y="528.0" width="24.5" height="1" fill="#000" fill-opacity="0.6"/><rect x="123" y="549.0" width="24.5" height="1" fill="#000" fill-opacity="0.6"/><rect x="123" y="570.0" width="24.5" height="1" fill="#000" fill-opacity="0.6"/>
<rect x="114.5" y="590.0" width="33" height="1.6" fill="#111"/>
<rect x="123" y="611.0" width="24.5" height="1" fill="#000" fill-opacity="0.6"/><rect x="123" y="631.0" width="24.5" height="1" fill="#000" fill-opacity="0.6"/><rect x="123" y="652.0" width="24.5" height="1" fill="#000" fill-opacity="0.6"/><rect x="123" y="672.0" width="24.5" height="1" fill="#000" fill-opacity="0.6"/>
<rect x="123" y="692.4" width="24.5" height="1.8" fill="#111"/>
<rect x="123" y="713.0" width="24.5" height="1" fill="#000" fill-opacity="0.6"/><rect x="123" y="734.0" width="24.5" height="1" fill="#000" fill-opacity="0.6"/><rect x="123" y="754.0" width="24.5" height="1" fill="#000" fill-opacity="0.6"/><rect x="123" y="775.0" width="24.5" height="1" fill="#000" fill-opacity="0.6"/>
<rect x="114.5" y="795.2" width="33" height="1.6" fill="#111"/>
<rect x="123" y="816.0" width="24.5" height="1" fill="#000" fill-opacity="0.6"/><rect x="123" y="836.0" width="24.5" height="1" fill="#000" fill-opacity="0.6"/><rect x="123" y="857.0" width="24.5" height="1" fill="#000" fill-opacity="0.6"/><rect x="123" y="877.0" width="24.5" height="1" fill="#000" fill-opacity="0.6"/>
<rect x="123" y="897.4" width="24.5" height="1.8" fill="#111"/>
<rect x="123" y="918.0" width="24.5" height="1" fill="#000" fill-opacity="0.6"/><rect x="123" y="939.0" width="24.5" height="1" fill="#000" fill-opacity="0.6"/><rect x="123" y="960.0" width="24.5" height="1" fill="#000" fill-opacity="0.6"/><rect x="123" y="980.0" width="24.5" height="1" fill="#000" fill-opacity="0.6"/>
<rect x="114.5" y="1000.4" width="33" height="1.6" fill="#111"/>
<rect x="123" y="1021.0" width="24.5" height="1" fill="#000" fill-opacity="0.6"/><rect x="123" y="1041.0" width="24.5" height="1" fill="#000" fill-opacity="0.6"/><rect x="123" y="1062.0" width="24.5" height="1" fill="#000" fill-opacity="0.6"/><rect x="123" y="1082.0" width="24.5" height="1" fill="#000" fill-opacity="0.6"/>
<rect x="123" y="1102.1" width="24.5" height="1.8" fill="#111"/>
<rect x="123" y="1123.0" width="24.5" height="1" fill="#000" fill-opacity="0.6"/><rect x="123" y="1144.0" width="24.5" height="1" fill="#000" fill-opacity="0.6"/><rect x="123" y="1164.0" width="24.5" height="1" fill="#000" fill-opacity="0.6"/><rect x="123" y="1185.0" width="24.5" height="1" fill="#000" fill-opacity="0.6"/>
<rect x="107" y="1205.1" width="182.5" height="1.4" fill="#08202e" fill-opacity="0.9"/>
<rect x="123" y="1226.0" width="24.5" height="1" fill="#000" fill-opacity="0.6"/><rect x="123" y="1246.0" width="24.5" height="1" fill="#000" fill-opacity="0.6"/><rect x="123" y="1267.0" width="24.5" height="1" fill="#000" fill-opacity="0.6"/><rect x="123" y="1287.0" width="24.5" height="1" fill="#000" fill-opacity="0.6"/>
<rect x="114.5" y="1307.6" width="33" height="1.6" fill="#111"/>
<rect x="123" y="1328.0" width="24.5" height="1" fill="#000" fill-opacity="0.6"/><rect x="123" y="1349.0" width="24.5" height="1" fill="#000" fill-opacity="0.6"/><rect x="123" y="1370.0" width="24.5" height="1" fill="#000" fill-opacity="0.6"/><rect x="123" y="1390.0" width="24.5" height="1" fill="#000" fill-opacity="0.6"/>
</g>
<text x="45.5" y="189.4" font-size="28.6" text-anchor="middle" fill="#0a0a0a" textLength="67" lengthAdjust="spacingAndGlyphs">-22°F</text>
<text x="45.5" y="280.2" font-size="25" text-anchor="middle" fill="#111">~</text>
<text x="45.5" y="393.2" font-size="28.6" text-anchor="middle" fill="#0a0a0a" textLength="58.5" lengthAdjust="spacingAndGlyphs">32°F</text>
<text x="45.0" y="601.2" font-size="28.6" text-anchor="middle" fill="#0a0a0a" textLength="58.5" lengthAdjust="spacingAndGlyphs">41°F</text>
<text x="45.0" y="805.3" font-size="28.6" text-anchor="middle" fill="#0a0a0a" textLength="58.5" lengthAdjust="spacingAndGlyphs">50°F</text>
<text x="45.0" y="1012.1" font-size="28.6" text-anchor="middle" fill="#0a0a0a" textLength="58.5" lengthAdjust="spacingAndGlyphs">59°F</text>
<text x="45.0" y="1216.7" font-size="28.6" text-anchor="middle" fill="#0a0a0a" textLength="58.5" lengthAdjust="spacingAndGlyphs">68°F</text>
<text x="45.0" y="1405.9" font-size="28.6" text-anchor="middle" fill="#0a0a0a" textLength="58.5" lengthAdjust="spacingAndGlyphs">86°F</text>
<text x="219.0" y="224.4" font-size="22.5" text-anchor="middle" fill="#e8f6ff" stroke="#e8f6ff" stroke-width="0.45" textLength="93" lengthAdjust="spacingAndGlyphs">Extreme</text>
<text x="218.5" y="249.0" font-size="17.5" text-anchor="middle" fill="#e8f6ff" font-weight="bold" textLength="110" lengthAdjust="spacingAndGlyphs">(-22°F ~ -4°F)</text>
<text x="218.0" y="331.2" font-size="22.5" text-anchor="middle" fill="#e6fbf6" stroke="#e6fbf6" stroke-width="0.45" textLength="50" lengthAdjust="spacingAndGlyphs">Cold</text>
<text x="218.4" y="357.0" font-size="17.5" text-anchor="middle" fill="#e6fbf6" font-weight="bold" textLength="109" lengthAdjust="spacingAndGlyphs">( -4°F ~ 32°F)</text>
<text x="219.0" y="861.3" font-size="22.5" text-anchor="middle" fill="#fff2b4" stroke="#fff2b4" stroke-width="0.45" textLength="48" lengthAdjust="spacingAndGlyphs">Cool</text>
<text x="218.5" y="887.3" font-size="17.5" text-anchor="middle" fill="#ffeeaa" font-weight="bold" textLength="123" lengthAdjust="spacingAndGlyphs">(35.6°F ~ 68°F)</text>
<text x="218.8" y="1297.5" font-size="22.5" text-anchor="middle" fill="#ffe6d4" stroke="#ffe6d4" stroke-width="0.45" textLength="66.5" lengthAdjust="spacingAndGlyphs">Warm</text>
<text x="218.3" y="1319.3" font-size="17.5" text-anchor="middle" fill="#ffe0cf" font-weight="bold" textLength="107.5" lengthAdjust="spacingAndGlyphs">(68°F ~ 86°F)</text>
<rect x="300" y="692.6" width="690" height="1.1" fill="#333"/>
<rect x="990" y="692.5" width="305" height="1.3" fill="#111"/>
<path d="M305.8 625.6 L380.6 598.6 L454.6 625.6 L454.6 680.2 L444.6 683.6 L315.8 683.6 L305.8 680.2 Z" fill="#fff" stroke="#3a9fa2" stroke-width="1.3" stroke-linejoin="miter"/>
<g transform="translate(295.0 556.1)">
<path d="M37.5 9.7 C36.2 9.9 32.8 10.0 30.0 11.1 C27.2 12.2 23.5 14.0 21.0 16.2 C18.5 18.3 16.5 21.2 15.0 24.0 C13.5 26.8 12.7 30.6 12.0 33.0 C11.3 35.4 11.7 36.9 10.8 38.4 C9.9 39.9 7.4 40.8 6.6 42.0 C5.8 43.2 5.7 44.2 5.8 45.5 C5.9 46.8 6.4 48.4 7.2 49.5 C8.0 50.6 9.5 51.6 10.8 52.2 C12.1 52.9 13.5 52.3 15.0 53.4 C16.5 54.5 17.8 57.1 19.8 58.8 C21.8 60.5 24.3 62.4 27.0 63.6 C29.7 64.8 32.5 65.9 36.0 66.0 C39.5 66.1 44.5 65.2 48.0 64.2 C51.5 63.2 54.5 61.7 57.0 60.0 C59.5 58.3 61.4 56.2 63.0 54.0 C64.6 51.8 65.8 49.1 66.6 46.8 C67.4 44.5 67.0 41.9 67.8 40.2 C68.6 38.5 70.3 38.0 71.2 36.5 C72.1 35.0 72.9 33.1 72.9 31.5 C73.0 29.9 72.3 28.2 71.5 27.0 C70.7 25.8 69.2 24.8 68.0 24.5 C66.8 24.2 65.5 26.1 64.2 25.2 C62.9 24.3 61.9 21.3 60.0 19.2 C58.1 17.1 54.0 13.7 52.8 12.6 Z" fill="#fff" stroke="none"/>
<path d="M39.0 23.4 C39.6 22.7 41.9 20.6 42.6 19.0 C43.3 17.4 43.5 15.4 43.3 14.0 C43.1 12.6 42.5 11.5 41.5 10.8 C40.5 10.1 39.4 9.6 37.5 9.7 C35.6 9.8 32.8 10.0 30.0 11.1 C27.2 12.2 23.5 14.0 21.0 16.2 C18.5 18.3 16.5 21.2 15.0 24.0 C13.5 26.8 12.7 30.6 12.0 33.0 C11.3 35.4 11.7 36.9 10.8 38.4 C9.9 39.9 7.4 40.8 6.6 42.0 C5.8 43.2 5.7 44.2 5.8 45.5 C5.9 46.8 6.4 48.4 7.2 49.5 C8.0 50.6 9.5 51.6 10.8 52.2 C12.1 52.9 13.5 52.3 15.0 53.4 C16.5 54.5 17.8 57.1 19.8 58.8 C21.8 60.5 24.3 62.4 27.0 63.6 C29.7 64.8 32.5 65.9 36.0 66.0 C39.5 66.1 44.5 65.2 48.0 64.2 C51.5 63.2 54.5 61.7 57.0 60.0 C59.5 58.3 61.4 56.2 63.0 54.0 C64.6 51.8 65.8 49.1 66.6 46.8 C67.4 44.5 67.0 41.9 67.8 40.2 C68.6 38.5 70.3 38.0 71.2 36.5 C72.1 35.0 72.9 33.1 72.9 31.5 C73.0 29.9 72.3 28.2 71.5 27.0 C70.7 25.8 69.2 24.8 68.0 24.5 C66.8 24.2 65.5 26.1 64.2 25.2 C62.9 24.3 61.9 21.3 60.0 19.2 C58.1 17.1 54.0 13.7 52.8 12.6" fill="none" stroke="#43b4b4" stroke-width="3.6" stroke-linecap="round" stroke-linejoin="round"/>
<circle cx="27.3" cy="41.7" r="2.8" fill="#42b3b3"/><circle cx="51.9" cy="36" r="2.8" fill="#42b3b3"/>
<path d="M36.2 49.8 Q43 55.5 48 47" fill="none" stroke="#42b3b3" stroke-width="2.1" stroke-linecap="round"/>
</g>
<text x="381.0" y="624.8" font-size="16" text-anchor="middle" fill="#3c9fa5" textLength="34.0" lengthAdjust="spacingAndGlyphs">45°F</text>
<text x="381.0" y="642.0" font-size="16" text-anchor="middle" fill="#262626" textLength="133.0" lengthAdjust="spacingAndGlyphs">Galaxy Zoo C 300</text>
<text x="381.0" y="659.0" font-size="16" text-anchor="middle" fill="#262626" textLength="95.0" lengthAdjust="spacingAndGlyphs">66.9″ × 27.5″</text>
<path d="M331.1 667.8 H443.5 V723.3 H331.1 A21.0 27.8 0 0 1 331.1 667.8 Z" fill="#13a8ba"/>
<rect x="361.1" y="667.8" width="82.4" height="3" fill="#2cc0cc" fill-opacity=".5"/>
<path d="M331.1 669.5 A19.3 26.1 0 0 0 334.1 721.6" fill="none" stroke="#0f8c9f" stroke-width="3.4"/>
<path d="M329.1 672.8 A14.0 22.8 0 0 0 331.1 718.3" fill="none" stroke="#114a72" stroke-width="3" stroke-opacity=".85"/>
<path d="M330.9 663.5 Q334 663.5 335.2 667.8 L362.9 668.3 L374.7 695.5 Q366 701 357.6 705.1 Q344 709 335.2 714.7 L330.9 723.3 Q325 721 322 714.5 Q319.5 707 319.3 697.7 Q319.3 689 320.6 682 Q322 676 324.5 672 Q327 666 330.9 663.5 Z" fill="url(#plBlue)"/>
<path d="M362.9 668.3 L374.7 695.5 Q366 701 357.6 705.1 Q344 709 335.2 714.7 L330.9 723.3" fill="none" stroke="#0c7c90" stroke-width="1.5" stroke-opacity=".85"/>
<path d="M378.0 707.0 V684.0 A9.0 9.0 0 0 1 396.0 684.0 V707.0 A9.0 9.0 0 0 0 414.0 707.0 V684.0 A9.0 9.0 0 0 1 432.0 684.0 V707.0" fill="none" stroke="#6fe0e8" stroke-opacity="0.135" stroke-width="6.4" stroke-linecap="round"/>
<path d="M378.0 707.0 V684.0 A9.0 9.0 0 0 1 396.0 684.0 V707.0 A9.0 9.0 0 0 0 414.0 707.0 V684.0 A9.0 9.0 0 0 1 432.0 684.0 V707.0" fill="none" stroke="#6fe0e8" stroke-opacity="0.3" stroke-width="2.0" transform="translate(1.2 0.6)"/>
<path d="M378.0 707.0 V684.0 A9.0 9.0 0 0 1 396.0 684.0 V707.0 A9.0 9.0 0 0 0 414.0 707.0 V684.0 A9.0 9.0 0 0 1 432.0 684.0 V707.0" fill="none" stroke="#0c8fa3" stroke-opacity="0.28" stroke-width="2.0" stroke-linecap="round"/>
<rect x="331.1" y="721.7" width="112.4" height="1.6" fill="#0e8ea1" fill-opacity=".6"/>
<path d="M331 722 q-3 4 1 5 q4 0 2 -4" fill="none" stroke="#bfe9ee" stroke-width=".9"/>
<path d="M291.0 694.0 L304.8 683.3 L304.8 704.7 Z" fill="#000"/>
<path d="M463.1 626.0 L538.3 598.6 L612.8 626.0 L612.8 679.8 L602.8 683.2 L473.1 683.2 L463.1 679.8 Z" fill="#fff" stroke="#2c2c2c" stroke-width="1.3" stroke-linejoin="miter"/>
<g transform="translate(449.8 555.9)">
<path d="M37.5 9.7 C36.2 9.9 32.8 10.0 30.0 11.1 C27.2 12.2 23.5 14.0 21.0 16.2 C18.5 18.3 16.5 21.2 15.0 24.0 C13.5 26.8 12.7 30.6 12.0 33.0 C11.3 35.4 11.7 36.9 10.8 38.4 C9.9 39.9 7.4 40.8 6.6 42.0 C5.8 43.2 5.7 44.2 5.8 45.5 C5.9 46.8 6.4 48.4 7.2 49.5 C8.0 50.6 9.5 51.6 10.8 52.2 C12.1 52.9 13.5 52.3 15.0 53.4 C16.5 54.5 17.8 57.1 19.8 58.8 C21.8 60.5 24.3 62.4 27.0 63.6 C29.7 64.8 32.5 65.9 36.0 66.0 C39.5 66.1 44.5 65.2 48.0 64.2 C51.5 63.2 54.5 61.7 57.0 60.0 C59.5 58.3 61.4 56.2 63.0 54.0 C64.6 51.8 65.8 49.1 66.6 46.8 C67.4 44.5 67.0 41.9 67.8 40.2 C68.6 38.5 70.3 38.0 71.2 36.5 C72.1 35.0 72.9 33.1 72.9 31.5 C73.0 29.9 72.3 28.2 71.5 27.0 C70.7 25.8 69.2 24.8 68.0 24.5 C66.8 24.2 65.5 26.1 64.2 25.2 C62.9 24.3 61.9 21.3 60.0 19.2 C58.1 17.1 54.0 13.7 52.8 12.6 Z" fill="#fff" stroke="none"/>
<path d="M39.0 23.4 C39.6 22.7 41.9 20.6 42.6 19.0 C43.3 17.4 43.5 15.4 43.3 14.0 C43.1 12.6 42.5 11.5 41.5 10.8 C40.5 10.1 39.4 9.6 37.5 9.7 C35.6 9.8 32.8 10.0 30.0 11.1 C27.2 12.2 23.5 14.0 21.0 16.2 C18.5 18.3 16.5 21.2 15.0 24.0 C13.5 26.8 12.7 30.6 12.0 33.0 C11.3 35.4 11.7 36.9 10.8 38.4 C9.9 39.9 7.4 40.8 6.6 42.0 C5.8 43.2 5.7 44.2 5.8 45.5 C5.9 46.8 6.4 48.4 7.2 49.5 C8.0 50.6 9.5 51.6 10.8 52.2 C12.1 52.9 13.5 52.3 15.0 53.4 C16.5 54.5 17.8 57.1 19.8 58.8 C21.8 60.5 24.3 62.4 27.0 63.6 C29.7 64.8 32.5 65.9 36.0 66.0 C39.5 66.1 44.5 65.2 48.0 64.2 C51.5 63.2 54.5 61.7 57.0 60.0 C59.5 58.3 61.4 56.2 63.0 54.0 C64.6 51.8 65.8 49.1 66.6 46.8 C67.4 44.5 67.0 41.9 67.8 40.2 C68.6 38.5 70.3 38.0 71.2 36.5 C72.1 35.0 72.9 33.1 72.9 31.5 C73.0 29.9 72.3 28.2 71.5 27.0 C70.7 25.8 69.2 24.8 68.0 24.5 C66.8 24.2 65.5 26.1 64.2 25.2 C62.9 24.3 61.9 21.3 60.0 19.2 C58.1 17.1 54.0 13.7 52.8 12.6" fill="none" stroke="#43b4b4" stroke-width="3.6" stroke-linecap="round" stroke-linejoin="round"/>
<circle cx="27.3" cy="41.7" r="2.8" fill="#42b3b3"/><circle cx="51.9" cy="36" r="2.8" fill="#42b3b3"/>
<path d="M36.2 49.8 Q43 55.5 48 47" fill="none" stroke="#42b3b3" stroke-width="2.1" stroke-linecap="round"/>
</g>
<text x="538.3" y="626.8" font-size="16" text-anchor="middle" fill="#333" textLength="34.0" lengthAdjust="spacingAndGlyphs">45°F</text>
<text x="538.3" y="644.3" font-size="16" text-anchor="middle" fill="#262626" textLength="97.3" lengthAdjust="spacingAndGlyphs">CLOUD 300S</text>
<text x="538.3" y="661.0" font-size="16" text-anchor="middle" fill="#262626" textLength="96.0" lengthAdjust="spacingAndGlyphs">66.9″ × 27.5″</text>
<path d="M488.6 667.5 H600.7 V722.8 H488.6 A22.1 27.6 0 0 1 488.6 667.5 Z" fill="#233d64"/>
<rect x="488.6" y="720.8" width="112.1" height="2" fill="#14253f" fill-opacity=".55"/>
<path d="M488.6 668.6 A21.0 26.5 0 0 0 488.6 721.7" fill="none" stroke="#1c3152" stroke-width="2.2"/>
<path d="M487.6 669.9 L486.0 675.3 Q486.9 677.9 491.2 678.4 L502.4 679.3 L529.5 683.6 L527.6 696.9 L524.3 721.6 L488.6 721.6 A19.7 25.8 0 0 1 487.6 669.9 Z" fill="url(#plTeal)"/>
<path d="M530.1 683.6 L528.1 696.9 L524.8 721.6" fill="none" stroke="#14253f" stroke-width="1.5" stroke-opacity=".8"/>
<path d="M487.6 669.9 L486.0 675.3 Q486.9 677.9 491.2 678.4 L502.4 679.3 L529.5 683.6" fill="none" stroke="#14253f" stroke-width="1.3" stroke-opacity=".75"/>
<path d="M502.4 668.5 V678.9" stroke="#14253f" stroke-width="1.2" stroke-opacity=".6"/>
<rect x="488.6" y="668.5" width="13.4" height="9.9" fill="#3d5f92" fill-opacity=".18"/>
<path d="M537.6 704.3 V687.1 A7.1 7.1 0 0 1 551.9 687.1 V704.3 A7.1 7.1 0 0 0 566.2 704.3 V687.1 A7.1 7.1 0 0 1 580.5 687.1 V704.3" fill="none" stroke="#3d5f92" stroke-opacity="0.225" stroke-width="8.959999999999999" stroke-linecap="round"/>
<path d="M537.6 704.3 V687.1 A7.1 7.1 0 0 1 551.9 687.1 V704.3 A7.1 7.1 0 0 0 566.2 704.3 V687.1 A7.1 7.1 0 0 1 580.5 687.1 V704.3" fill="none" stroke="#3d5f92" stroke-opacity="0.5" stroke-width="2.8" transform="translate(1.2 0.6)"/>
<path d="M537.6 704.3 V687.1 A7.1 7.1 0 0 1 551.9 687.1 V704.3 A7.1 7.1 0 0 0 566.2 704.3 V687.1 A7.1 7.1 0 0 1 580.5 687.1 V704.3" fill="none" stroke="#14253f" stroke-opacity="0.5" stroke-width="2.8" stroke-linecap="round"/>
<rect x="587.3" y="668.5" width="1.2" height="53.3" fill="#14253f" fill-opacity=".45"/>
<rect x="594.1" y="687.4" width="1.5" height="14.9" fill="#fff" fill-opacity=".8"/>
<ellipse cx="492.5" cy="724.0" rx="3.8" ry="2.6" fill="#1c3152"/>
<path d="M627.0 619.7 L701.7 593.0 L776.3 619.7 L776.3 672.0 L627.0 672.0 Z" fill="#fff" stroke="#4a4038" stroke-width="1.3" stroke-linejoin="miter"/>
<text x="701.7" y="621.0" font-size="16" text-anchor="middle" fill="#5a4537" textLength="34.0" lengthAdjust="spacingAndGlyphs">45°F</text>
<text x="701.7" y="637.7" font-size="16" text-anchor="middle" fill="#262626" textLength="97.6" lengthAdjust="spacingAndGlyphs">CLOUD 300S</text>
<text x="701.7" y="655.0" font-size="16" text-anchor="middle" fill="#262626" textLength="96.0" lengthAdjust="spacingAndGlyphs">90.6″ × 35.4″</text>
<path d="M640 663.4 H787.2 V729.3 H640 C622 729.3 614 716 614 697 C614 680 624 663.4 640 663.4 Z" fill="#637158"/>
<path d="M710.6 663.4 H787.2 V729.3 H760 Z" fill="#6a4a34"/>
<path d="M697 671 L722 692 L700 712 M735 680 L752 697 L726 722 M745 668 L768 690 M770 700 L748 722" fill="none" stroke="#fff" stroke-opacity=".07" stroke-width="2.2"/>
<path d="M699 672 L724 693 L702 713 M737 681 L754 698 L728 723" fill="none" stroke="#000" stroke-opacity=".10" stroke-width="1.4"/>
<path d="M639.7 659.6 Q645 659.5 649.8 663.4 L672.6 663.4 L687.8 688.7 Q683 697 676.4 702.7 Q656 709 646 717.9 L638.4 730.5 Q629 728 624.5 722.9 Q616 713 615 702.7 Q613.5 693 614.3 683.7 Q617 673 624.5 667.2 Q631 661.5 639.7 659.6 Z" fill="url(#plDark)"/>
<path d="M672.6 663.4 L687.8 688.7 Q683 697 676.4 702.7 Q656 709 646 717.9 L638.4 730.5" fill="none" stroke="#0d1316" stroke-width="1.8"/>
<path d="M639.7 659.6 Q631 661.5 624.5 667.2 Q617 673 614.3 683.7 Q613.5 693 615 702.7 Q616 713 624.5 722.9 Q629 728 638.4 730.5" fill="none" stroke="#10171b" stroke-width="1.6"/>
<rect x="640.5" y="726.4" width="13" height="1.3" fill="#fff" fill-opacity=".8"/>
<rect x="783.5" y="688" width="1" height="22" fill="#d8c8a8" fill-opacity=".35"/>
<rect x="640" y="727.9" width="147.2" height="1.4" fill="#000" fill-opacity=".22"/>
<path d="M811.1 619.7 L885.5 592.9 L960.3 619.7 L960.3 672.0 L811.1 672.0 Z" fill="#fff" stroke="#2b3a4e" stroke-width="1.3" stroke-linejoin="miter"/>
<text x="885.5" y="619.7" font-size="16" text-anchor="middle" fill="#2c4058" textLength="34.0" lengthAdjust="spacingAndGlyphs">45°F</text>
<text x="885.5" y="638.0" font-size="16" text-anchor="middle" fill="#262626" textLength="87.6" lengthAdjust="spacingAndGlyphs">CLOUD 300</text>
<text x="885.5" y="655.0" font-size="16" text-anchor="middle" fill="#262626" textLength="92.0" lengthAdjust="spacingAndGlyphs">90.6″ × 35.4″</text>
<path d="M823.8 663.9 H970.5 V727.8 H823.8 A29.4 31.9 0 0 1 823.8 663.9 Z" fill="#23416b"/>
<rect x="823.8" y="725.8" width="146.7" height="2" fill="#14253f" fill-opacity=".55"/>
<path d="M823.8 665.0 A28.3 30.8 0 0 0 823.8 726.7" fill="none" stroke="#1c3152" stroke-width="2.2"/>
<path d="M822.8 666.3 L820.8 672.9 Q821.8 675.9 826.8 676.5 L839.8 677.5 L877.4 682.5 L875.2 697.8 L871.4 726.6 L823.8 726.6 A27.0 30.1 0 0 1 822.8 666.3 Z" fill="url(#plTeal)"/>
<path d="M878.0 682.5 L875.8 697.8 L872.0 726.6" fill="none" stroke="#14253f" stroke-width="1.5" stroke-opacity=".8"/>
<path d="M822.8 666.3 L820.8 672.9 Q821.8 675.9 826.8 676.5 L839.8 677.5 L877.4 682.5" fill="none" stroke="#14253f" stroke-width="1.3" stroke-opacity=".75"/>
<path d="M839.8 664.9 V677.1" stroke="#14253f" stroke-width="1.2" stroke-opacity=".6"/>
<rect x="823.8" y="664.9" width="15.5" height="11.5" fill="#3d5f92" fill-opacity=".18"/>
<path d="M888.8 706.1 V686.9 A8.7 8.7 0 0 1 906.1 686.9 V706.1 A8.7 8.7 0 0 0 923.4 706.1 V686.9 A8.7 8.7 0 0 1 940.7 686.9 V706.1" fill="none" stroke="#3d5f92" stroke-opacity="0.225" stroke-width="8.959999999999999" stroke-linecap="round"/>
<path d="M888.8 706.1 V686.9 A8.7 8.7 0 0 1 906.1 686.9 V706.1 A8.7 8.7 0 0 0 923.4 706.1 V686.9 A8.7 8.7 0 0 1 940.7 686.9 V706.1" fill="none" stroke="#3d5f92" stroke-opacity="0.5" stroke-width="2.8" transform="translate(1.2 0.6)"/>
<path d="M888.8 706.1 V686.9 A8.7 8.7 0 0 1 906.1 686.9 V706.1 A8.7 8.7 0 0 0 923.4 706.1 V686.9 A8.7 8.7 0 0 1 940.7 686.9 V706.1" fill="none" stroke="#14253f" stroke-opacity="0.5" stroke-width="2.8" stroke-linecap="round"/>
<rect x="955.0" y="664.9" width="1.2" height="61.9" fill="#14253f" fill-opacity=".45"/>
<rect x="962.9" y="686.9" width="1.5" height="17.3" fill="#fff" fill-opacity=".8"/>
<ellipse cx="828.3" cy="729.0" rx="3.8" ry="2.6" fill="#1c3152"/>
<path d="M994.0 695.0 L980.0 684.3 L980.0 705.7 Z" fill="#000"/>
<path d="M958.3 455.0 L1033.3 428.3 L1108.3 455.0 L1108.3 520.0 L958.3 520.0 Z" fill="#fff" stroke="#2c3a48" stroke-width="1.3" stroke-linejoin="miter"/>
<text x="1033.0" y="462.3" font-size="16" text-anchor="middle" fill="#6a4f3e" textLength="34.0" lengthAdjust="spacingAndGlyphs">39°F</text>
<text x="1033.0" y="479.3" font-size="16" text-anchor="middle" fill="#262626" textLength="132.0" lengthAdjust="spacingAndGlyphs">SNOWFLAKE 400</text>
<text x="1033.0" y="496.0" font-size="16" text-anchor="middle" fill="#262626" textLength="64.7" lengthAdjust="spacingAndGlyphs">75″ × 33″</text>
<path d="M952.4 509 Q953.5 503.2 958 502.9 Q962 504 964.2 510 H1113.0 V576.0 H952.4 Z" fill="#6a4630"/>
<rect x="952.9" y="510.4" width="58.2" height="57" fill="url(#plTan)"/>
<path d="M1010.5 521 L965 566" stroke="#f3d9b0" stroke-width="1" stroke-opacity=".35"/>
<path d="M1011.5 522 L966 567" stroke="#5a3018" stroke-width="1" stroke-opacity=".5"/>
<rect x="1010.6" y="510.4" width="1.6" height="57.5" fill="#3c2415" fill-opacity=".7"/>
<rect x="952.4" y="567.2" width="60" height="1.4" fill="#3c2415" fill-opacity=".6"/>
<path d="M1016.5 559.9 V532.1 A7.6 7.6 0 0 1 1031.7 532.1 V559.9 A7.6 7.6 0 0 0 1046.9 559.9 V532.1 A7.6 7.6 0 0 1 1062.2 532.1 V559.9 A7.6 7.6 0 0 0 1077.4 559.9 V532.1 A7.6 7.6 0 0 1 1092.6 532.1 V559.9" fill="none" stroke="#86603f" stroke-opacity="0.225" stroke-width="9.600000000000001" stroke-linecap="round"/>
<path d="M1016.5 559.9 V532.1 A7.6 7.6 0 0 1 1031.7 532.1 V559.9 A7.6 7.6 0 0 0 1046.9 559.9 V532.1 A7.6 7.6 0 0 1 1062.2 532.1 V559.9 A7.6 7.6 0 0 0 1077.4 559.9 V532.1 A7.6 7.6 0 0 1 1092.6 532.1 V559.9" fill="none" stroke="#86603f" stroke-opacity="0.5" stroke-width="3.0" transform="translate(1.2 0.6)"/>
<path d="M1016.5 559.9 V532.1 A7.6 7.6 0 0 1 1031.7 532.1 V559.9 A7.6 7.6 0 0 0 1046.9 559.9 V532.1 A7.6 7.6 0 0 1 1062.2 532.1 V559.9 A7.6 7.6 0 0 0 1077.4 559.9 V532.1 A7.6 7.6 0 0 1 1092.6 532.1 V559.9" fill="none" stroke="#3b2415" stroke-opacity="0.75" stroke-width="3.0" stroke-linecap="round"/>
<rect x="1102.6" y="535.8" width="1.7" height="17" fill="#f3dcc0" fill-opacity=".9"/>
<rect x="952.4" y="574.4" width="160.6" height="1.6" fill="#3c2415" fill-opacity=".45"/>
<rect x="1111.6" y="510.0" width="1.4" height="66.0" fill="#3c2415" fill-opacity=".35"/>
<path d="M930.0 543.0 L945.0 532.0 L945.0 554.0 Z" fill="#000"/>
<path d="M1152.3 456.7 L1226.7 429.3 L1301.7 456.7 L1301.7 520.0 L1152.3 520.0 Z" fill="#fff" stroke="#2c3a48" stroke-width="1.3" stroke-linejoin="miter"/>
<text x="1226.7" y="463.3" font-size="16" text-anchor="middle" fill="#2c4a66" textLength="34.0" lengthAdjust="spacingAndGlyphs">39°F</text>
<text x="1226.7" y="481.0" font-size="16" text-anchor="middle" fill="#262626" textLength="87.4" lengthAdjust="spacingAndGlyphs">CLOUD 400</text>
<text x="1226.7" y="497.7" font-size="16" text-anchor="middle" fill="#262626" textLength="92.3" lengthAdjust="spacingAndGlyphs">90.6″ × 35.4″</text>
<path d="M1159.5 509.1 H1307.4 V573.2 H1159.5 A29.5 32.1 0 0 1 1159.5 509.1 Z" fill="#23416b"/>
<rect x="1159.5" y="571.2" width="147.9" height="2" fill="#14253f" fill-opacity=".55"/>
<path d="M1159.5 510.2 A28.4 31.0 0 0 0 1159.5 572.1" fill="none" stroke="#1c3152" stroke-width="2.2"/>
<path d="M1158.5 511.5 L1156.5 518.1 Q1157.5 521.1 1162.5 521.7 L1175.5 522.7 L1213.6 527.7 L1211.4 543.2 L1207.6 572.0 L1159.5 572.0 A27.1 30.3 0 0 1 1158.5 511.5 Z" fill="url(#plTeal)"/>
<path d="M1214.2 527.7 L1212.0 543.2 L1208.2 572.0" fill="none" stroke="#14253f" stroke-width="1.5" stroke-opacity=".8"/>
<path d="M1158.5 511.5 L1156.5 518.1 Q1157.5 521.1 1162.5 521.7 L1175.5 522.7 L1213.6 527.7" fill="none" stroke="#14253f" stroke-width="1.3" stroke-opacity=".75"/>
<path d="M1175.5 510.1 V522.3" stroke="#14253f" stroke-width="1.2" stroke-opacity=".6"/>
<rect x="1159.5" y="510.1" width="15.5" height="11.5" fill="#3d5f92" fill-opacity=".18"/>
<path d="M1224.3 551.6 V532.0 A8.5 8.5 0 0 1 1241.2 532.0 V551.6 A8.5 8.5 0 0 0 1258.1 551.6 V532.0 A8.5 8.5 0 0 1 1275.0 532.0 V551.6" fill="none" stroke="#3d5f92" stroke-opacity="0.225" stroke-width="8.959999999999999" stroke-linecap="round"/>
<path d="M1224.3 551.6 V532.0 A8.5 8.5 0 0 1 1241.2 532.0 V551.6 A8.5 8.5 0 0 0 1258.1 551.6 V532.0 A8.5 8.5 0 0 1 1275.0 532.0 V551.6" fill="none" stroke="#3d5f92" stroke-opacity="0.5" stroke-width="2.8" transform="translate(1.2 0.6)"/>
<path d="M1224.3 551.6 V532.0 A8.5 8.5 0 0 1 1241.2 532.0 V551.6 A8.5 8.5 0 0 0 1258.1 551.6 V532.0 A8.5 8.5 0 0 1 1275.0 532.0 V551.6" fill="none" stroke="#14253f" stroke-opacity="0.5" stroke-width="2.8" stroke-linecap="round"/>
<rect x="1291.9" y="510.1" width="1.2" height="62.1" fill="#14253f" fill-opacity=".45"/>
<rect x="1299.8" y="532.2" width="1.5" height="17.3" fill="#fff" fill-opacity=".8"/>
<ellipse cx="1164.0" cy="574.4" rx="3.8" ry="2.6" fill="#1c3152"/>
<path d="M1337.3 543.0 L1323.3 532.0 L1323.3 554.0 Z" fill="#000"/>
<path d="M1323.6 585.6 L1398.0 559.0 L1472.4 585.6 L1472.4 640.0 L1323.6 640.0 Z" fill="#fff" stroke="#3a3a3a" stroke-width="1.3" stroke-linejoin="miter"/>
<text x="1398.0" y="589.6" font-size="16" text-anchor="middle" fill="#6a5443" textLength="34.0" lengthAdjust="spacingAndGlyphs">45°F</text>
<text x="1398.0" y="606.5" font-size="16" text-anchor="middle" fill="#262626" textLength="135.6" lengthAdjust="spacingAndGlyphs">SNOWFLAKE 300D</text>
<text x="1398.0" y="624.0" font-size="16" text-anchor="middle" fill="#262626" textLength="82.0" lengthAdjust="spacingAndGlyphs">86.6″ × 59″</text>
<rect x="1320.2" y="630.2" width="156.0" height="102.6" fill="#6a4830"/>
<path d="M1320.8 630.8 H1378 L1368 656 L1344.8 708.8 L1342.4 732.8 H1320.8 Z" fill="url(#plTanL)"/>
<path d="M1377 630.8 H1380.8 L1402.4 648.8 L1344.8 708.8 L1368 656 Z" fill="url(#plTan2)"/>
<path d="M1380.8 630.8 L1402.4 648.8 L1344.8 708.8 L1342.4 732.8" fill="none" stroke="#4a2a16" stroke-width="1.2" stroke-opacity=".75"/>
<path d="M1377 631 L1368 656 L1344.8 708.8" fill="none" stroke="#6b3a1c" stroke-width="1" stroke-opacity=".5"/>
<path d="M1397 640 L1406 652" stroke="#2a170c" stroke-width="1.6" stroke-opacity=".7"/>
<path d="M1404.8 646.7 V665.6 A7.2 7.2 0 0 0 1419.2 665.6 V646.7 A7.2 7.2 0 0 1 1433.6 646.7 V665.6 A7.2 7.2 0 0 0 1448.0 665.6 V646.7 A7.2 7.2 0 0 1 1462.4 646.7 V665.6" fill="none" stroke="#86603f" stroke-opacity=".45" stroke-width="2.4" transform="translate(1.2 .6)"/>
<path d="M1404.8 646.7 V665.6 A7.2 7.2 0 0 0 1419.2 665.6 V646.7 A7.2 7.2 0 0 1 1433.6 646.7 V665.6 A7.2 7.2 0 0 0 1448.0 665.6 V646.7 A7.2 7.2 0 0 1 1462.4 646.7 V665.6" fill="none" stroke="#3b2415" stroke-opacity=".6" stroke-width="2.4" stroke-linecap="round"/>
<path d="M1362.8 715.9 V699.4 A7.3 7.3 0 0 1 1377.5 699.4 V715.9 A7.3 7.3 0 0 0 1392.2 715.9 V699.4 A7.3 7.3 0 0 1 1406.9 699.4 V715.9 A7.3 7.3 0 0 0 1421.6 715.9 V699.4" fill="none" stroke="#86603f" stroke-opacity=".4" stroke-width="2.2" transform="translate(1.2 .6)"/>
<path d="M1362.8 715.9 V699.4 A7.3 7.3 0 0 1 1377.5 699.4 V715.9 A7.3 7.3 0 0 0 1392.2 715.9 V699.4 A7.3 7.3 0 0 1 1406.9 699.4 V715.9 A7.3 7.3 0 0 0 1421.6 715.9 V699.4" fill="none" stroke="#3b2415" stroke-opacity=".5" stroke-width="2.2" stroke-linecap="round"/>
<g transform="translate(1443.2 704) rotate(-30)"><rect x="-16" y="-24" width="32" height="48" rx="11" fill="#25272c"/><rect x="-15.3" y="-23.3" width="30.6" height="46.6" rx="10.5" fill="none" stroke="#4d5057" stroke-width="1"/><path d="M-3 -23 V23 M-13 -6 Q-2 -18 12 -14" fill="none" stroke="#6b6e75" stroke-width="1.3"/><rect x="4.5" y="-5" width="2.6" height="17" fill="#fff"/><path d="M3.5 13 L5.8 17 L8.1 13 Z" fill="#fff"/></g>
<rect x="1468.8" y="672.8" width="1.7" height="14.5" fill="#f3dcc0" fill-opacity=".9"/>
<rect x="1320.2" y="731.0" width="156.0" height="1.8" fill="#3c2415" fill-opacity=".5"/>
<path d="M1293.2 693.0 L1307.0 682.0 L1307.0 704.0 Z" fill="#000"/>
<path d="M1497.0 693.0 L1483.0 682.0 L1483.0 704.0 Z" fill="#000"/>
</svg>
</body></html>
